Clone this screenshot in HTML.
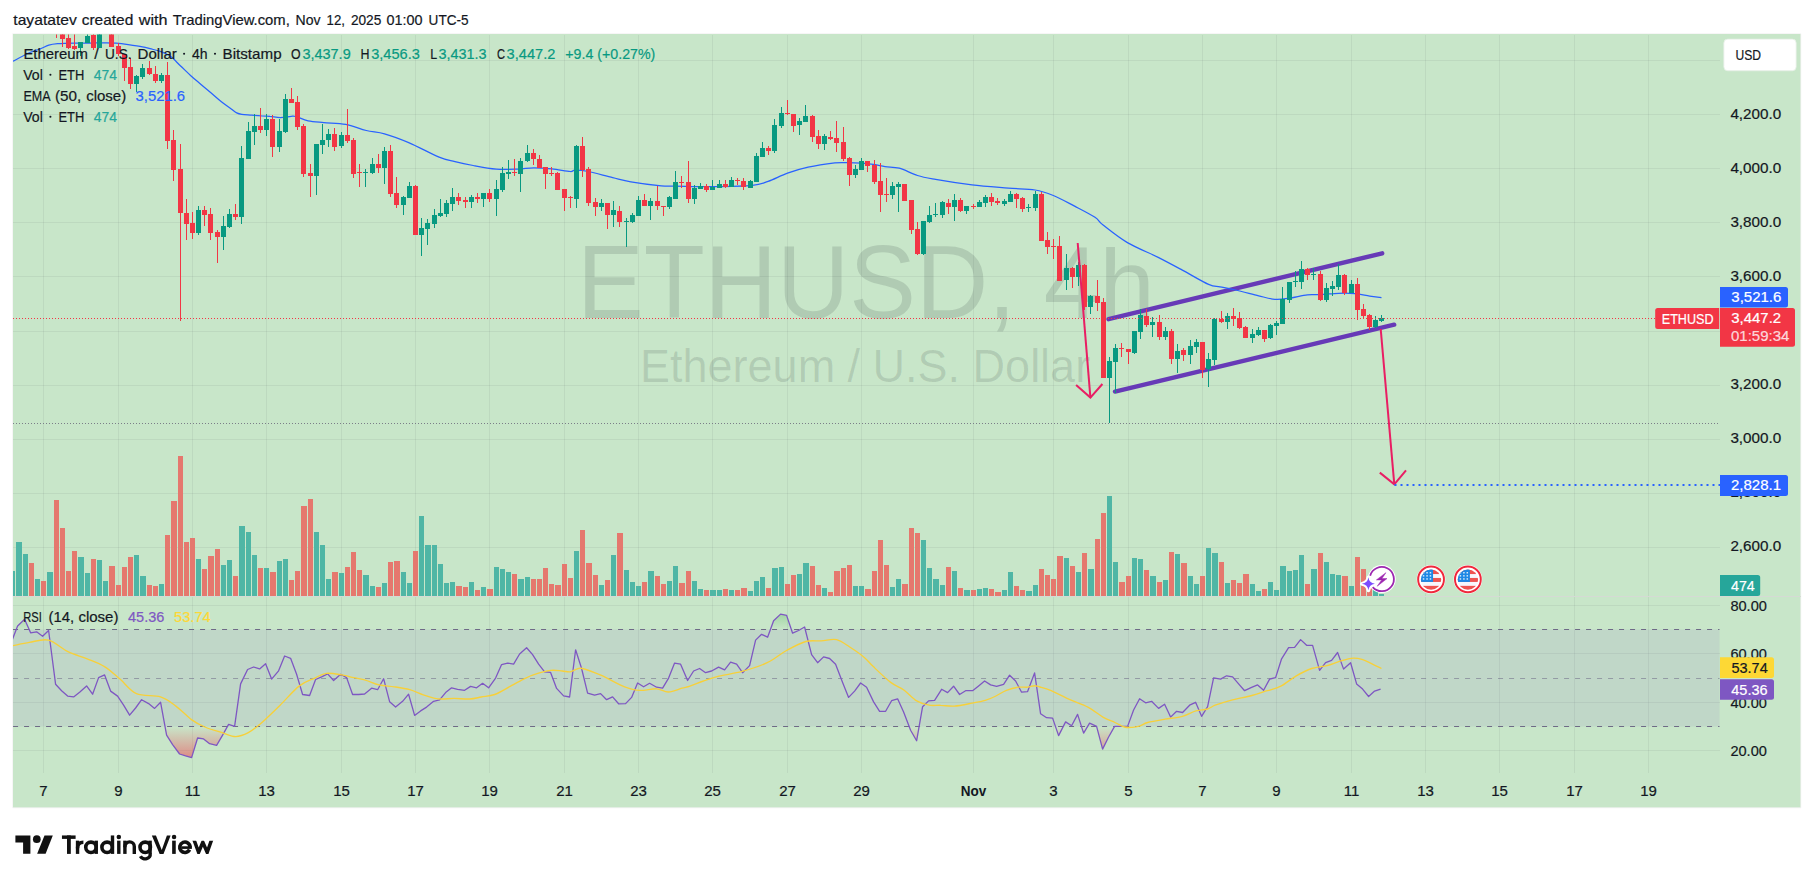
<!DOCTYPE html>
<html><head><meta charset="utf-8"><title>ETHUSD 4h</title>
<style>html,body{margin:0;padding:0;background:#fff;}svg{display:block;}text{font-family:"Liberation Sans", sans-serif;}.h{stroke-width:0.2px;paint-order:stroke fill;}</style></head><body>
<svg width="1814" height="883" viewBox="0 0 1814 883">
<defs>
<clipPath id="cpMain"><rect x="13" y="34.5" width="1706.5" height="561.5"/></clipPath>
<clipPath id="cpRsi"><rect x="13" y="597" width="1706.5" height="176.5"/></clipPath>
<linearGradient id="gOS" x1="0" y1="726.5" x2="0" y2="760" gradientUnits="userSpaceOnUse"><stop offset="0" stop-color="#F23645" stop-opacity="0"/><stop offset="1" stop-color="#F23645" stop-opacity="0.55"/></linearGradient>
<linearGradient id="gOB" x1="0" y1="612" x2="0" y2="629.5" gradientUnits="userSpaceOnUse"><stop offset="0" stop-color="#4CAF50" stop-opacity="0.35"/><stop offset="1" stop-color="#4CAF50" stop-opacity="0"/></linearGradient>
<clipPath id="cpOS"><rect x="13" y="726.5" width="1707" height="60"/></clipPath>
<clipPath id="cpOB"><rect x="13" y="597" width="1707" height="32.5"/></clipPath>
<clipPath id="cpFlag"><circle cx="0" cy="0" r="10.15"/></clipPath>
</defs>
<text class="h" stroke="#131722" x="13.3" y="24.6" font-size="14.6" fill="#131722" textLength="63.6" lengthAdjust="spacingAndGlyphs">tayatatev</text>
<text class="h" stroke="#131722" x="81.7" y="24.6" font-size="14.6" fill="#131722" textLength="51.6" lengthAdjust="spacingAndGlyphs">created</text>
<text class="h" stroke="#131722" x="138.8" y="24.6" font-size="14.6" fill="#131722" textLength="28.8" lengthAdjust="spacingAndGlyphs">with</text>
<text class="h" stroke="#131722" x="172.8" y="24.6" font-size="14.6" fill="#131722" textLength="117" lengthAdjust="spacingAndGlyphs">TradingView.com,</text>
<text class="h" stroke="#131722" x="295.6" y="24.6" font-size="14.6" fill="#131722" textLength="25" lengthAdjust="spacingAndGlyphs">Nov</text>
<text class="h" stroke="#131722" x="326.6" y="24.6" font-size="14.6" fill="#131722" textLength="18.4" lengthAdjust="spacingAndGlyphs">12,</text>
<text class="h" stroke="#131722" x="350.9" y="24.6" font-size="14.6" fill="#131722" textLength="30.4" lengthAdjust="spacingAndGlyphs">2025</text>
<text class="h" stroke="#131722" x="386.6" y="24.6" font-size="14.6" fill="#131722" textLength="36" lengthAdjust="spacingAndGlyphs">01:00</text>
<text class="h" stroke="#131722" x="428.6" y="24.6" font-size="14.6" fill="#131722" textLength="40" lengthAdjust="spacingAndGlyphs">UTC-5</text>
<rect x="12.4" y="33.4" width="1788.8" height="774.8" fill="#F1F1F1"/>
<rect x="13" y="34" width="1787.4" height="773.3" fill="#C8E6C9"/>
<g shape-rendering="crispEdges" fill="rgba(42,46,57,0.065)">
<rect x="43" y="35" width="1" height="738"/>
<rect x="118" y="35" width="1" height="738"/>
<rect x="192" y="35" width="1" height="738"/>
<rect x="266" y="35" width="1" height="738"/>
<rect x="341" y="35" width="1" height="738"/>
<rect x="415" y="35" width="1" height="738"/>
<rect x="489" y="35" width="1" height="738"/>
<rect x="564" y="35" width="1" height="738"/>
<rect x="638" y="35" width="1" height="738"/>
<rect x="712" y="35" width="1" height="738"/>
<rect x="787" y="35" width="1" height="738"/>
<rect x="861" y="35" width="1" height="738"/>
<rect x="973" y="35" width="1" height="738"/>
<rect x="1053" y="35" width="1" height="738"/>
<rect x="1128" y="35" width="1" height="738"/>
<rect x="1202" y="35" width="1" height="738"/>
<rect x="1276" y="35" width="1" height="738"/>
<rect x="1351" y="35" width="1" height="738"/>
<rect x="1425" y="35" width="1" height="738"/>
<rect x="1499" y="35" width="1" height="738"/>
<rect x="1574" y="35" width="1" height="738"/>
<rect x="1648" y="35" width="1" height="738"/>
<rect x="13" y="60" width="1706.5" height="1"/>
<rect x="13" y="114" width="1706.5" height="1"/>
<rect x="13" y="168" width="1706.5" height="1"/>
<rect x="13" y="222" width="1706.5" height="1"/>
<rect x="13" y="276" width="1706.5" height="1"/>
<rect x="13" y="331" width="1706.5" height="1"/>
<rect x="13" y="385" width="1706.5" height="1"/>
<rect x="13" y="439" width="1706.5" height="1"/>
<rect x="13" y="493" width="1706.5" height="1"/>
<rect x="13" y="547" width="1706.5" height="1"/>
<rect x="13" y="605" width="1706.5" height="1"/>
<rect x="13" y="653" width="1706.5" height="1"/>
<rect x="13" y="702" width="1706.5" height="1"/>
<rect x="13" y="750" width="1706.5" height="1"/>
</g>
<text x="577.05" y="0" transform="translate(0 317.6) scale(1 1.04)" font-size="100" fill="rgba(19,23,34,0.13)">ETHUSD,</text>
<text x="1043.75" y="0" transform="translate(0 317.6) scale(1 1.02)" font-size="100" fill="rgba(19,23,34,0.13)">4</text>
<text x="1099.35" y="0" transform="translate(0 317.6) scale(1 0.98)" font-size="100" fill="rgba(19,23,34,0.13)">h</text>
<text x="865.1" y="0" transform="translate(0 382) scale(1 1.045)" font-size="45" fill="rgba(19,23,34,0.13)" text-anchor="middle">Ethereum / U.S. Dollar</text>
<g clip-path="url(#cpMain)" shape-rendering="crispEdges">
<rect x="1379" y="594" width="5" height="2" fill="#4FB6A5"/>
<rect x="1373" y="590" width="5" height="6" fill="#4FB6A5"/>
<rect x="1367" y="586" width="5" height="10" fill="#E5786E"/>
<rect x="1361" y="569" width="5" height="27" fill="#E5786E"/>
<rect x="1355" y="557" width="5" height="39" fill="#E5786E"/>
<rect x="1349" y="586" width="5" height="10" fill="#4FB6A5"/>
<rect x="1342" y="576" width="6" height="20" fill="#E5786E"/>
<rect x="1336" y="575" width="5" height="21" fill="#4FB6A5"/>
<rect x="1330" y="574" width="5" height="22" fill="#4FB6A5"/>
<rect x="1324" y="562" width="5" height="34" fill="#4FB6A5"/>
<rect x="1318" y="553" width="5" height="43" fill="#E5786E"/>
<rect x="1311" y="569" width="6" height="27" fill="#4FB6A5"/>
<rect x="1305" y="584" width="5" height="12" fill="#E5786E"/>
<rect x="1299" y="555" width="5" height="41" fill="#4FB6A5"/>
<rect x="1293" y="570" width="5" height="26" fill="#4FB6A5"/>
<rect x="1287" y="571" width="5" height="25" fill="#4FB6A5"/>
<rect x="1280" y="566" width="6" height="30" fill="#4FB6A5"/>
<rect x="1274" y="590" width="5" height="6" fill="#4FB6A5"/>
<rect x="1268" y="582" width="5" height="14" fill="#4FB6A5"/>
<rect x="1262" y="589" width="5" height="7" fill="#E5786E"/>
<rect x="1256" y="591" width="5" height="5" fill="#4FB6A5"/>
<rect x="1250" y="584" width="5" height="12" fill="#4FB6A5"/>
<rect x="1243" y="574" width="6" height="22" fill="#E5786E"/>
<rect x="1237" y="583" width="5" height="13" fill="#E5786E"/>
<rect x="1231" y="580" width="5" height="16" fill="#E5786E"/>
<rect x="1225" y="583" width="5" height="13" fill="#4FB6A5"/>
<rect x="1219" y="562" width="5" height="34" fill="#E5786E"/>
<rect x="1212" y="553" width="6" height="43" fill="#4FB6A5"/>
<rect x="1206" y="548" width="5" height="48" fill="#4FB6A5"/>
<rect x="1200" y="576" width="5" height="20" fill="#E5786E"/>
<rect x="1194" y="584" width="5" height="12" fill="#4FB6A5"/>
<rect x="1188" y="576" width="5" height="20" fill="#4FB6A5"/>
<rect x="1181" y="563" width="6" height="33" fill="#E5786E"/>
<rect x="1175" y="554" width="5" height="42" fill="#4FB6A5"/>
<rect x="1169" y="552" width="5" height="44" fill="#E5786E"/>
<rect x="1163" y="580" width="5" height="16" fill="#4FB6A5"/>
<rect x="1157" y="582" width="5" height="14" fill="#E5786E"/>
<rect x="1150" y="576" width="6" height="20" fill="#4FB6A5"/>
<rect x="1144" y="570" width="5" height="26" fill="#E5786E"/>
<rect x="1138" y="559" width="5" height="37" fill="#4FB6A5"/>
<rect x="1132" y="558" width="5" height="38" fill="#4FB6A5"/>
<rect x="1126" y="576" width="5" height="20" fill="#E5786E"/>
<rect x="1119" y="582" width="6" height="14" fill="#E5786E"/>
<rect x="1113" y="562" width="5" height="34" fill="#4FB6A5"/>
<rect x="1107" y="496" width="5" height="100" fill="#4FB6A5"/>
<rect x="1101" y="513" width="5" height="83" fill="#E5786E"/>
<rect x="1095" y="539" width="5" height="57" fill="#E5786E"/>
<rect x="1088" y="569" width="6" height="27" fill="#4FB6A5"/>
<rect x="1082" y="553" width="5" height="43" fill="#E5786E"/>
<rect x="1076" y="572" width="5" height="24" fill="#4FB6A5"/>
<rect x="1070" y="566" width="5" height="30" fill="#E5786E"/>
<rect x="1064" y="558" width="5" height="38" fill="#4FB6A5"/>
<rect x="1057" y="556" width="6" height="40" fill="#E5786E"/>
<rect x="1051" y="579" width="5" height="17" fill="#E5786E"/>
<rect x="1045" y="575" width="5" height="21" fill="#E5786E"/>
<rect x="1039" y="569" width="5" height="27" fill="#E5786E"/>
<rect x="1033" y="585" width="5" height="11" fill="#4FB6A5"/>
<rect x="1026" y="591" width="6" height="5" fill="#4FB6A5"/>
<rect x="1020" y="590" width="5" height="6" fill="#E5786E"/>
<rect x="1014" y="586" width="5" height="10" fill="#E5786E"/>
<rect x="1008" y="572" width="5" height="24" fill="#4FB6A5"/>
<rect x="1002" y="590" width="5" height="6" fill="#4FB6A5"/>
<rect x="995" y="592" width="6" height="4" fill="#E5786E"/>
<rect x="989" y="589" width="5" height="7" fill="#E5786E"/>
<rect x="983" y="588" width="5" height="8" fill="#4FB6A5"/>
<rect x="977" y="589" width="5" height="7" fill="#4FB6A5"/>
<rect x="971" y="590" width="5" height="6" fill="#E5786E"/>
<rect x="964" y="590" width="6" height="6" fill="#4FB6A5"/>
<rect x="958" y="588" width="5" height="8" fill="#E5786E"/>
<rect x="952" y="571" width="5" height="25" fill="#4FB6A5"/>
<rect x="946" y="567" width="5" height="29" fill="#E5786E"/>
<rect x="940" y="585" width="5" height="11" fill="#4FB6A5"/>
<rect x="933" y="579" width="6" height="17" fill="#4FB6A5"/>
<rect x="927" y="568" width="5" height="28" fill="#4FB6A5"/>
<rect x="921" y="540" width="5" height="56" fill="#4FB6A5"/>
<rect x="915" y="533" width="5" height="63" fill="#E5786E"/>
<rect x="909" y="528" width="5" height="68" fill="#E5786E"/>
<rect x="902" y="584" width="6" height="12" fill="#E5786E"/>
<rect x="896" y="579" width="5" height="17" fill="#4FB6A5"/>
<rect x="890" y="587" width="5" height="9" fill="#4FB6A5"/>
<rect x="884" y="565" width="5" height="31" fill="#E5786E"/>
<rect x="878" y="540" width="5" height="56" fill="#E5786E"/>
<rect x="872" y="571" width="5" height="25" fill="#E5786E"/>
<rect x="865" y="589" width="6" height="7" fill="#E5786E"/>
<rect x="859" y="586" width="5" height="10" fill="#4FB6A5"/>
<rect x="853" y="586" width="5" height="10" fill="#4FB6A5"/>
<rect x="847" y="565" width="5" height="31" fill="#E5786E"/>
<rect x="841" y="568" width="5" height="28" fill="#E5786E"/>
<rect x="834" y="571" width="6" height="25" fill="#E5786E"/>
<rect x="828" y="592" width="5" height="4" fill="#E5786E"/>
<rect x="822" y="588" width="5" height="8" fill="#4FB6A5"/>
<rect x="816" y="585" width="5" height="11" fill="#E5786E"/>
<rect x="810" y="566" width="5" height="30" fill="#E5786E"/>
<rect x="803" y="563" width="6" height="33" fill="#4FB6A5"/>
<rect x="797" y="574" width="5" height="22" fill="#4FB6A5"/>
<rect x="791" y="575" width="5" height="21" fill="#E5786E"/>
<rect x="785" y="584" width="5" height="12" fill="#E5786E"/>
<rect x="779" y="567" width="5" height="29" fill="#4FB6A5"/>
<rect x="772" y="568" width="6" height="28" fill="#4FB6A5"/>
<rect x="766" y="588" width="5" height="8" fill="#E5786E"/>
<rect x="760" y="577" width="5" height="19" fill="#4FB6A5"/>
<rect x="754" y="581" width="5" height="15" fill="#4FB6A5"/>
<rect x="748" y="591" width="5" height="5" fill="#4FB6A5"/>
<rect x="741" y="588" width="6" height="8" fill="#E5786E"/>
<rect x="735" y="590" width="5" height="6" fill="#E5786E"/>
<rect x="729" y="590" width="5" height="6" fill="#4FB6A5"/>
<rect x="723" y="589" width="5" height="7" fill="#E5786E"/>
<rect x="717" y="590" width="5" height="6" fill="#4FB6A5"/>
<rect x="710" y="590" width="6" height="6" fill="#4FB6A5"/>
<rect x="704" y="590" width="5" height="6" fill="#E5786E"/>
<rect x="698" y="589" width="5" height="7" fill="#4FB6A5"/>
<rect x="692" y="581" width="5" height="15" fill="#4FB6A5"/>
<rect x="686" y="571" width="5" height="25" fill="#E5786E"/>
<rect x="679" y="583" width="6" height="13" fill="#E5786E"/>
<rect x="673" y="566" width="5" height="30" fill="#4FB6A5"/>
<rect x="667" y="581" width="5" height="15" fill="#4FB6A5"/>
<rect x="661" y="584" width="5" height="12" fill="#E5786E"/>
<rect x="655" y="576" width="5" height="20" fill="#E5786E"/>
<rect x="648" y="571" width="6" height="25" fill="#4FB6A5"/>
<rect x="642" y="582" width="5" height="14" fill="#E5786E"/>
<rect x="636" y="586" width="5" height="10" fill="#4FB6A5"/>
<rect x="630" y="582" width="5" height="14" fill="#4FB6A5"/>
<rect x="624" y="570" width="5" height="26" fill="#4FB6A5"/>
<rect x="617" y="533" width="6" height="63" fill="#E5786E"/>
<rect x="611" y="555" width="5" height="41" fill="#4FB6A5"/>
<rect x="605" y="580" width="5" height="16" fill="#E5786E"/>
<rect x="599" y="585" width="5" height="11" fill="#4FB6A5"/>
<rect x="593" y="575" width="5" height="21" fill="#E5786E"/>
<rect x="586" y="563" width="6" height="33" fill="#E5786E"/>
<rect x="580" y="530" width="5" height="66" fill="#E5786E"/>
<rect x="574" y="551" width="5" height="45" fill="#4FB6A5"/>
<rect x="568" y="578" width="5" height="18" fill="#E5786E"/>
<rect x="562" y="564" width="5" height="32" fill="#E5786E"/>
<rect x="555" y="585" width="6" height="11" fill="#E5786E"/>
<rect x="549" y="584" width="5" height="12" fill="#E5786E"/>
<rect x="543" y="568" width="5" height="28" fill="#E5786E"/>
<rect x="537" y="579" width="5" height="17" fill="#E5786E"/>
<rect x="531" y="579" width="5" height="17" fill="#E5786E"/>
<rect x="525" y="577" width="5" height="19" fill="#4FB6A5"/>
<rect x="518" y="579" width="6" height="17" fill="#4FB6A5"/>
<rect x="512" y="574" width="5" height="22" fill="#E5786E"/>
<rect x="506" y="572" width="5" height="24" fill="#4FB6A5"/>
<rect x="500" y="569" width="5" height="27" fill="#4FB6A5"/>
<rect x="494" y="567" width="5" height="29" fill="#4FB6A5"/>
<rect x="487" y="589" width="6" height="7" fill="#E5786E"/>
<rect x="481" y="587" width="5" height="9" fill="#4FB6A5"/>
<rect x="475" y="590" width="5" height="6" fill="#E5786E"/>
<rect x="469" y="582" width="5" height="14" fill="#4FB6A5"/>
<rect x="463" y="587" width="5" height="9" fill="#E5786E"/>
<rect x="456" y="586" width="6" height="10" fill="#E5786E"/>
<rect x="450" y="582" width="5" height="14" fill="#4FB6A5"/>
<rect x="444" y="583" width="5" height="13" fill="#4FB6A5"/>
<rect x="438" y="564" width="5" height="32" fill="#4FB6A5"/>
<rect x="432" y="545" width="5" height="51" fill="#4FB6A5"/>
<rect x="425" y="545" width="6" height="51" fill="#4FB6A5"/>
<rect x="419" y="516" width="5" height="80" fill="#4FB6A5"/>
<rect x="413" y="551" width="5" height="45" fill="#E5786E"/>
<rect x="407" y="583" width="5" height="13" fill="#4FB6A5"/>
<rect x="401" y="572" width="5" height="24" fill="#4FB6A5"/>
<rect x="394" y="561" width="6" height="35" fill="#E5786E"/>
<rect x="388" y="562" width="5" height="34" fill="#E5786E"/>
<rect x="382" y="583" width="5" height="13" fill="#4FB6A5"/>
<rect x="376" y="587" width="5" height="9" fill="#E5786E"/>
<rect x="370" y="586" width="5" height="10" fill="#4FB6A5"/>
<rect x="363" y="575" width="6" height="21" fill="#4FB6A5"/>
<rect x="357" y="570" width="5" height="26" fill="#E5786E"/>
<rect x="351" y="552" width="5" height="44" fill="#E5786E"/>
<rect x="345" y="567" width="5" height="29" fill="#E5786E"/>
<rect x="339" y="573" width="5" height="23" fill="#4FB6A5"/>
<rect x="332" y="572" width="6" height="24" fill="#E5786E"/>
<rect x="326" y="579" width="5" height="17" fill="#4FB6A5"/>
<rect x="320" y="545" width="5" height="51" fill="#4FB6A5"/>
<rect x="314" y="532" width="5" height="64" fill="#4FB6A5"/>
<rect x="308" y="499" width="5" height="97" fill="#E5786E"/>
<rect x="301" y="506" width="6" height="90" fill="#E5786E"/>
<rect x="295" y="571" width="5" height="25" fill="#E5786E"/>
<rect x="289" y="580" width="5" height="16" fill="#E5786E"/>
<rect x="283" y="559" width="5" height="37" fill="#4FB6A5"/>
<rect x="277" y="561" width="5" height="35" fill="#4FB6A5"/>
<rect x="270" y="572" width="6" height="24" fill="#E5786E"/>
<rect x="264" y="568" width="5" height="28" fill="#4FB6A5"/>
<rect x="258" y="568" width="5" height="28" fill="#E5786E"/>
<rect x="252" y="555" width="5" height="41" fill="#4FB6A5"/>
<rect x="246" y="532" width="5" height="64" fill="#4FB6A5"/>
<rect x="239" y="526" width="6" height="70" fill="#4FB6A5"/>
<rect x="233" y="576" width="5" height="20" fill="#E5786E"/>
<rect x="227" y="560" width="5" height="36" fill="#4FB6A5"/>
<rect x="221" y="565" width="5" height="31" fill="#4FB6A5"/>
<rect x="215" y="549" width="5" height="47" fill="#E5786E"/>
<rect x="208" y="556" width="6" height="40" fill="#E5786E"/>
<rect x="202" y="569" width="5" height="27" fill="#E5786E"/>
<rect x="196" y="559" width="5" height="37" fill="#4FB6A5"/>
<rect x="190" y="538" width="5" height="58" fill="#E5786E"/>
<rect x="184" y="542" width="5" height="54" fill="#E5786E"/>
<rect x="178" y="456" width="5" height="140" fill="#E5786E"/>
<rect x="171" y="501" width="6" height="95" fill="#E5786E"/>
<rect x="165" y="535" width="5" height="61" fill="#E5786E"/>
<rect x="159" y="584" width="5" height="12" fill="#4FB6A5"/>
<rect x="153" y="586" width="5" height="10" fill="#E5786E"/>
<rect x="147" y="585" width="5" height="11" fill="#E5786E"/>
<rect x="140" y="576" width="6" height="20" fill="#4FB6A5"/>
<rect x="134" y="555" width="5" height="41" fill="#4FB6A5"/>
<rect x="128" y="557" width="5" height="39" fill="#E5786E"/>
<rect x="122" y="567" width="5" height="29" fill="#E5786E"/>
<rect x="116" y="585" width="5" height="11" fill="#E5786E"/>
<rect x="109" y="566" width="6" height="30" fill="#E5786E"/>
<rect x="103" y="581" width="5" height="15" fill="#4FB6A5"/>
<rect x="97" y="560" width="5" height="36" fill="#4FB6A5"/>
<rect x="91" y="559" width="5" height="37" fill="#E5786E"/>
<rect x="85" y="573" width="5" height="23" fill="#4FB6A5"/>
<rect x="78" y="557" width="6" height="39" fill="#4FB6A5"/>
<rect x="72" y="551" width="5" height="45" fill="#E5786E"/>
<rect x="66" y="571" width="5" height="25" fill="#E5786E"/>
<rect x="60" y="528" width="5" height="68" fill="#E5786E"/>
<rect x="54" y="500" width="5" height="96" fill="#E5786E"/>
<rect x="47" y="572" width="6" height="24" fill="#4FB6A5"/>
<rect x="41" y="581" width="5" height="15" fill="#E5786E"/>
<rect x="35" y="579" width="5" height="17" fill="#4FB6A5"/>
<rect x="29" y="563" width="5" height="33" fill="#E5786E"/>
<rect x="23" y="554" width="5" height="42" fill="#4FB6A5"/>
<rect x="16" y="542" width="6" height="54" fill="#4FB6A5"/>
<rect x="10" y="571" width="5" height="25" fill="#4FB6A5"/>
</g>
<g clip-path="url(#cpMain)" fill="none" stroke-linecap="round" stroke="#673AB7" stroke-width="4.4">
<line x1="1108.5" y1="319.2" x2="1382.2" y2="253.3"/>
<line x1="1115" y1="391.6" x2="1394.2" y2="324.7"/>
</g>
<path clip-path="url(#cpMain)" d="M13.0 61.3 C15.8 59.8 25.4 54.5 29.9 52.5 C34.4 50.5 36.9 50.2 40.0 49.0 C43.1 47.8 45.9 46.1 48.8 45.2 C51.7 44.3 53.2 44.1 57.6 43.7 C62.0 43.4 69.7 43.2 75.0 43.1 C80.3 43.0 84.3 43.0 89.5 43.0 C94.7 43.0 101.6 42.9 106.0 42.9 C110.4 42.9 112.3 42.9 116.0 43.2 C119.7 43.5 123.8 44.0 128.2 44.6 C132.6 45.2 138.9 46.1 142.5 46.8 C146.1 47.5 147.1 47.9 150.0 48.7 C152.9 49.5 156.8 50.1 160.2 51.4 C163.6 52.7 167.0 53.9 170.4 56.3 C173.8 58.7 177.2 62.8 180.6 66.0 C184.0 69.2 187.4 72.6 190.8 75.7 C194.2 78.8 197.6 81.5 201.0 84.4 C204.4 87.3 207.8 90.1 211.2 93.0 C214.6 95.9 218.0 99.0 221.4 101.7 C224.8 104.4 229.1 107.4 231.6 109.3 C234.1 111.2 235.0 112.1 236.7 112.9 C238.4 113.8 239.2 114.0 241.8 114.4 C244.4 114.8 248.6 114.9 252.0 115.2 C255.4 115.5 259.2 115.8 262.2 116.0 C265.2 116.2 267.0 116.0 270.0 116.3 C273.0 116.5 276.7 117.5 280.2 117.5 C283.7 117.5 288.5 116.5 291.1 116.3 C293.7 116.1 293.1 115.8 295.9 116.5 C298.7 117.2 303.5 119.8 308.1 120.8 C312.8 121.8 317.5 122.0 323.8 122.6 C330.1 123.2 338.6 123.1 345.7 124.4 C352.8 125.7 359.8 128.9 366.3 130.5 C372.8 132.1 377.4 131.8 384.5 133.8 C391.6 135.8 399.6 138.7 408.7 142.6 C417.8 146.5 431.4 154.0 439.1 157.2 C446.8 160.4 449.3 160.2 455.0 161.6 C460.7 163.0 466.3 164.2 473.2 165.5 C480.1 166.8 488.7 168.5 496.2 169.1 C503.7 169.7 511.8 169.3 518.1 169.1 C524.4 168.9 528.1 167.9 533.8 167.9 C539.4 167.9 545.9 168.3 552.0 168.9 C558.1 169.5 566.4 171.3 570.2 171.5 C574.0 171.7 572.0 170.1 575.0 170.1 C578.0 170.1 582.1 170.2 588.4 171.5 C594.7 172.8 605.6 175.9 612.7 177.6 C619.8 179.3 622.8 180.4 630.9 181.8 C639.0 183.2 653.9 185.1 661.2 185.8 C668.6 186.5 666.3 186.0 675.0 186.1 C683.7 186.2 700.6 186.7 713.5 186.6 C726.4 186.5 743.2 186.3 752.3 185.4 C761.4 184.5 762.2 183.4 768.1 181.4 C774.0 179.4 780.8 175.6 787.5 173.2 C794.2 170.8 800.2 168.9 808.1 167.2 C816.0 165.5 828.3 163.7 834.8 162.9 C841.3 162.2 840.8 162.5 846.9 162.7 C853.0 162.9 864.9 163.4 871.2 164.1 C877.6 164.8 880.3 165.9 885.0 166.6 C889.7 167.3 893.9 166.7 899.3 168.2 C904.7 169.7 911.5 173.6 917.5 175.5 C923.5 177.4 926.5 177.8 935.6 179.4 C944.7 181.0 959.9 183.4 972.0 184.9 C984.1 186.4 997.9 187.3 1008.4 188.2 C1018.9 189.0 1027.6 188.8 1035.1 190.0 C1042.6 191.2 1046.6 192.8 1053.3 195.5 C1060.0 198.2 1068.1 202.8 1075.1 206.4 C1082.0 210.0 1090.3 214.2 1095.0 217.3 C1099.7 220.4 1097.7 220.8 1103.1 225.0 C1108.5 229.2 1118.3 237.2 1127.4 242.6 C1136.5 247.9 1148.6 252.6 1157.7 257.1 C1166.8 261.7 1173.4 265.3 1181.9 269.9 C1190.4 274.4 1202.2 281.6 1208.6 284.4 C1214.9 287.2 1215.5 286.0 1220.0 286.9 C1224.5 287.8 1229.0 288.5 1235.5 290.0 C1242.0 291.5 1252.1 294.2 1258.7 295.8 C1265.3 297.4 1269.9 298.9 1274.9 299.3 C1279.9 299.7 1283.3 299.1 1288.7 298.3 C1294.1 297.6 1302.2 295.4 1307.4 294.8 C1312.6 294.2 1314.6 294.9 1319.8 294.6 C1325.0 294.4 1332.7 293.5 1338.5 293.3 C1344.3 293.1 1349.5 293.1 1354.7 293.6 C1359.9 294.1 1365.2 295.4 1369.7 296.1 C1374.2 296.8 1379.5 297.4 1381.5 297.6" fill="none" stroke="#2962FF" stroke-width="1.25" stroke-linejoin="round"/>
<g clip-path="url(#cpMain)" shape-rendering="crispEdges">
<rect x="1381" y="315" width="1" height="7" fill="#089981"/>
<rect x="1379" y="318" width="5" height="3" fill="#089981"/>
<rect x="1375" y="316" width="1" height="12" fill="#089981"/>
<rect x="1373" y="320" width="5" height="7" fill="#089981"/>
<rect x="1369" y="314" width="1" height="16" fill="#F23645"/>
<rect x="1367" y="315" width="5" height="12" fill="#F23645"/>
<rect x="1363" y="304" width="1" height="15" fill="#F23645"/>
<rect x="1361" y="309" width="5" height="7" fill="#F23645"/>
<rect x="1357" y="278" width="1" height="42" fill="#F23645"/>
<rect x="1355" y="284" width="5" height="26" fill="#F23645"/>
<rect x="1351" y="280" width="1" height="13" fill="#089981"/>
<rect x="1349" y="284" width="5" height="9" fill="#089981"/>
<rect x="1344" y="274" width="1" height="21" fill="#F23645"/>
<rect x="1342" y="275" width="5" height="18" fill="#F23645"/>
<rect x="1338" y="264" width="1" height="26" fill="#089981"/>
<rect x="1336" y="275" width="5" height="12" fill="#089981"/>
<rect x="1332" y="281" width="1" height="15" fill="#089981"/>
<rect x="1330" y="286" width="5" height="3" fill="#089981"/>
<rect x="1326" y="283" width="1" height="19" fill="#089981"/>
<rect x="1324" y="288" width="5" height="12" fill="#089981"/>
<rect x="1320" y="271" width="1" height="30" fill="#F23645"/>
<rect x="1318" y="274" width="5" height="26" fill="#F23645"/>
<rect x="1313" y="268" width="1" height="12" fill="#089981"/>
<rect x="1311" y="274" width="5" height="1" fill="#089981"/>
<rect x="1307" y="268" width="1" height="12" fill="#F23645"/>
<rect x="1305" y="269" width="5" height="6" fill="#F23645"/>
<rect x="1301" y="261" width="1" height="28" fill="#089981"/>
<rect x="1299" y="269" width="5" height="13" fill="#089981"/>
<rect x="1295" y="271" width="1" height="16" fill="#089981"/>
<rect x="1293" y="281" width="5" height="1" fill="#089981"/>
<rect x="1289" y="282" width="1" height="21" fill="#089981"/>
<rect x="1287" y="282" width="5" height="18" fill="#089981"/>
<rect x="1282" y="287" width="1" height="37" fill="#089981"/>
<rect x="1280" y="299" width="5" height="25" fill="#089981"/>
<rect x="1276" y="321" width="1" height="14" fill="#089981"/>
<rect x="1274" y="323" width="5" height="3" fill="#089981"/>
<rect x="1270" y="324" width="1" height="15" fill="#089981"/>
<rect x="1268" y="325" width="5" height="13" fill="#089981"/>
<rect x="1264" y="330" width="1" height="12" fill="#F23645"/>
<rect x="1262" y="330" width="5" height="9" fill="#F23645"/>
<rect x="1258" y="327" width="1" height="9" fill="#089981"/>
<rect x="1256" y="330" width="5" height="5" fill="#089981"/>
<rect x="1252" y="329" width="1" height="14" fill="#089981"/>
<rect x="1250" y="334" width="5" height="4" fill="#089981"/>
<rect x="1245" y="326" width="1" height="12" fill="#F23645"/>
<rect x="1243" y="327" width="5" height="11" fill="#F23645"/>
<rect x="1239" y="312" width="1" height="17" fill="#F23645"/>
<rect x="1237" y="318" width="5" height="10" fill="#F23645"/>
<rect x="1233" y="308" width="1" height="18" fill="#F23645"/>
<rect x="1231" y="316" width="5" height="3" fill="#F23645"/>
<rect x="1227" y="313" width="1" height="16" fill="#089981"/>
<rect x="1225" y="316" width="5" height="6" fill="#089981"/>
<rect x="1221" y="311" width="1" height="12" fill="#F23645"/>
<rect x="1219" y="319" width="5" height="3" fill="#F23645"/>
<rect x="1214" y="318" width="1" height="47" fill="#089981"/>
<rect x="1212" y="319" width="5" height="41" fill="#089981"/>
<rect x="1208" y="353" width="1" height="34" fill="#089981"/>
<rect x="1206" y="359" width="5" height="10" fill="#089981"/>
<rect x="1202" y="342" width="1" height="36" fill="#F23645"/>
<rect x="1200" y="342" width="5" height="28" fill="#F23645"/>
<rect x="1196" y="339" width="1" height="14" fill="#089981"/>
<rect x="1194" y="342" width="5" height="5" fill="#089981"/>
<rect x="1190" y="340" width="1" height="24" fill="#089981"/>
<rect x="1188" y="346" width="5" height="9" fill="#089981"/>
<rect x="1183" y="348" width="1" height="13" fill="#F23645"/>
<rect x="1181" y="350" width="5" height="5" fill="#F23645"/>
<rect x="1177" y="344" width="1" height="29" fill="#089981"/>
<rect x="1175" y="351" width="5" height="8" fill="#089981"/>
<rect x="1171" y="329" width="1" height="35" fill="#F23645"/>
<rect x="1169" y="331" width="5" height="28" fill="#F23645"/>
<rect x="1165" y="327" width="1" height="13" fill="#089981"/>
<rect x="1163" y="331" width="5" height="6" fill="#089981"/>
<rect x="1159" y="315" width="1" height="25" fill="#F23645"/>
<rect x="1157" y="322" width="5" height="15" fill="#F23645"/>
<rect x="1152" y="317" width="1" height="20" fill="#089981"/>
<rect x="1150" y="322" width="5" height="3" fill="#089981"/>
<rect x="1146" y="309" width="1" height="18" fill="#F23645"/>
<rect x="1144" y="316" width="5" height="9" fill="#F23645"/>
<rect x="1140" y="309" width="1" height="30" fill="#089981"/>
<rect x="1138" y="315" width="5" height="17" fill="#089981"/>
<rect x="1134" y="331" width="1" height="23" fill="#089981"/>
<rect x="1132" y="331" width="5" height="22" fill="#089981"/>
<rect x="1128" y="349" width="1" height="15" fill="#F23645"/>
<rect x="1126" y="349" width="5" height="3" fill="#F23645"/>
<rect x="1121" y="343" width="1" height="14" fill="#F23645"/>
<rect x="1119" y="348" width="5" height="1" fill="#F23645"/>
<rect x="1115" y="344" width="1" height="49" fill="#089981"/>
<rect x="1113" y="348" width="5" height="14" fill="#089981"/>
<rect x="1109" y="357" width="1" height="66" fill="#089981"/>
<rect x="1107" y="361" width="5" height="17" fill="#089981"/>
<rect x="1103" y="298" width="1" height="80" fill="#F23645"/>
<rect x="1101" y="302" width="5" height="76" fill="#F23645"/>
<rect x="1097" y="280" width="1" height="31" fill="#F23645"/>
<rect x="1095" y="296" width="5" height="7" fill="#F23645"/>
<rect x="1090" y="295" width="1" height="19" fill="#089981"/>
<rect x="1088" y="296" width="5" height="11" fill="#089981"/>
<rect x="1084" y="264" width="1" height="46" fill="#F23645"/>
<rect x="1082" y="265" width="5" height="42" fill="#F23645"/>
<rect x="1078" y="262" width="1" height="24" fill="#089981"/>
<rect x="1076" y="265" width="5" height="12" fill="#089981"/>
<rect x="1072" y="267" width="1" height="21" fill="#F23645"/>
<rect x="1070" y="268" width="5" height="9" fill="#F23645"/>
<rect x="1066" y="254" width="1" height="36" fill="#089981"/>
<rect x="1064" y="268" width="5" height="12" fill="#089981"/>
<rect x="1059" y="236" width="1" height="45" fill="#F23645"/>
<rect x="1057" y="246" width="5" height="35" fill="#F23645"/>
<rect x="1053" y="239" width="1" height="20" fill="#F23645"/>
<rect x="1051" y="246" width="5" height="1" fill="#F23645"/>
<rect x="1047" y="232" width="1" height="22" fill="#F23645"/>
<rect x="1045" y="240" width="5" height="7" fill="#F23645"/>
<rect x="1041" y="192" width="1" height="49" fill="#F23645"/>
<rect x="1039" y="194" width="5" height="47" fill="#F23645"/>
<rect x="1035" y="191" width="1" height="20" fill="#089981"/>
<rect x="1033" y="194" width="5" height="14" fill="#089981"/>
<rect x="1028" y="204" width="1" height="8" fill="#089981"/>
<rect x="1026" y="207" width="5" height="1" fill="#089981"/>
<rect x="1022" y="197" width="1" height="15" fill="#F23645"/>
<rect x="1020" y="198" width="5" height="11" fill="#F23645"/>
<rect x="1016" y="193" width="1" height="15" fill="#F23645"/>
<rect x="1014" y="194" width="5" height="5" fill="#F23645"/>
<rect x="1010" y="191" width="1" height="11" fill="#089981"/>
<rect x="1008" y="194" width="5" height="8" fill="#089981"/>
<rect x="1004" y="199" width="1" height="7" fill="#089981"/>
<rect x="1002" y="201" width="5" height="3" fill="#089981"/>
<rect x="997" y="198" width="1" height="7" fill="#F23645"/>
<rect x="995" y="201" width="5" height="2" fill="#F23645"/>
<rect x="991" y="193" width="1" height="13" fill="#F23645"/>
<rect x="989" y="197" width="5" height="5" fill="#F23645"/>
<rect x="985" y="195" width="1" height="12" fill="#089981"/>
<rect x="983" y="197" width="5" height="6" fill="#089981"/>
<rect x="979" y="200" width="1" height="7" fill="#089981"/>
<rect x="977" y="202" width="5" height="5" fill="#089981"/>
<rect x="973" y="204" width="1" height="5" fill="#F23645"/>
<rect x="971" y="206" width="5" height="1" fill="#F23645"/>
<rect x="966" y="206" width="1" height="8" fill="#089981"/>
<rect x="964" y="206" width="5" height="5" fill="#089981"/>
<rect x="960" y="198" width="1" height="14" fill="#F23645"/>
<rect x="958" y="200" width="5" height="11" fill="#F23645"/>
<rect x="954" y="194" width="1" height="27" fill="#089981"/>
<rect x="952" y="200" width="5" height="7" fill="#089981"/>
<rect x="948" y="199" width="1" height="15" fill="#F23645"/>
<rect x="946" y="203" width="5" height="4" fill="#F23645"/>
<rect x="942" y="201" width="1" height="17" fill="#089981"/>
<rect x="940" y="202" width="5" height="13" fill="#089981"/>
<rect x="935" y="203" width="1" height="14" fill="#089981"/>
<rect x="933" y="214" width="5" height="1" fill="#089981"/>
<rect x="929" y="206" width="1" height="17" fill="#089981"/>
<rect x="927" y="215" width="5" height="7" fill="#089981"/>
<rect x="923" y="221" width="1" height="34" fill="#089981"/>
<rect x="921" y="221" width="5" height="33" fill="#089981"/>
<rect x="917" y="222" width="1" height="33" fill="#F23645"/>
<rect x="915" y="229" width="5" height="25" fill="#F23645"/>
<rect x="911" y="200" width="1" height="34" fill="#F23645"/>
<rect x="909" y="200" width="5" height="30" fill="#F23645"/>
<rect x="904" y="184" width="1" height="17" fill="#F23645"/>
<rect x="902" y="184" width="5" height="17" fill="#F23645"/>
<rect x="898" y="182" width="1" height="30" fill="#089981"/>
<rect x="896" y="184" width="5" height="3" fill="#089981"/>
<rect x="892" y="182" width="1" height="17" fill="#089981"/>
<rect x="890" y="186" width="5" height="9" fill="#089981"/>
<rect x="886" y="178" width="1" height="24" fill="#F23645"/>
<rect x="884" y="194" width="5" height="1" fill="#F23645"/>
<rect x="880" y="163" width="1" height="49" fill="#F23645"/>
<rect x="878" y="181" width="5" height="14" fill="#F23645"/>
<rect x="874" y="160" width="1" height="24" fill="#F23645"/>
<rect x="872" y="165" width="5" height="17" fill="#F23645"/>
<rect x="867" y="161" width="1" height="11" fill="#F23645"/>
<rect x="865" y="161" width="5" height="5" fill="#F23645"/>
<rect x="861" y="158" width="1" height="12" fill="#089981"/>
<rect x="859" y="161" width="5" height="9" fill="#089981"/>
<rect x="855" y="165" width="1" height="13" fill="#089981"/>
<rect x="853" y="169" width="5" height="6" fill="#089981"/>
<rect x="849" y="157" width="1" height="29" fill="#F23645"/>
<rect x="847" y="158" width="5" height="17" fill="#F23645"/>
<rect x="843" y="127" width="1" height="34" fill="#F23645"/>
<rect x="841" y="142" width="5" height="17" fill="#F23645"/>
<rect x="836" y="121" width="1" height="31" fill="#F23645"/>
<rect x="834" y="138" width="5" height="5" fill="#F23645"/>
<rect x="830" y="131" width="1" height="9" fill="#F23645"/>
<rect x="828" y="137" width="5" height="2" fill="#F23645"/>
<rect x="824" y="134" width="1" height="16" fill="#089981"/>
<rect x="822" y="136" width="5" height="8" fill="#089981"/>
<rect x="818" y="130" width="1" height="19" fill="#F23645"/>
<rect x="816" y="136" width="5" height="8" fill="#F23645"/>
<rect x="812" y="115" width="1" height="27" fill="#F23645"/>
<rect x="810" y="116" width="5" height="21" fill="#F23645"/>
<rect x="805" y="105" width="1" height="17" fill="#089981"/>
<rect x="803" y="116" width="5" height="6" fill="#089981"/>
<rect x="799" y="118" width="1" height="17" fill="#089981"/>
<rect x="797" y="121" width="5" height="4" fill="#089981"/>
<rect x="793" y="114" width="1" height="18" fill="#F23645"/>
<rect x="791" y="114" width="5" height="12" fill="#F23645"/>
<rect x="787" y="100" width="1" height="15" fill="#F23645"/>
<rect x="785" y="113" width="5" height="1" fill="#F23645"/>
<rect x="781" y="107" width="1" height="21" fill="#089981"/>
<rect x="779" y="113" width="5" height="13" fill="#089981"/>
<rect x="774" y="119" width="1" height="34" fill="#089981"/>
<rect x="772" y="125" width="5" height="26" fill="#089981"/>
<rect x="768" y="146" width="1" height="9" fill="#F23645"/>
<rect x="766" y="148" width="5" height="3" fill="#F23645"/>
<rect x="762" y="142" width="1" height="15" fill="#089981"/>
<rect x="760" y="148" width="5" height="9" fill="#089981"/>
<rect x="756" y="153" width="1" height="29" fill="#089981"/>
<rect x="754" y="156" width="5" height="26" fill="#089981"/>
<rect x="750" y="180" width="1" height="8" fill="#089981"/>
<rect x="748" y="181" width="5" height="7" fill="#089981"/>
<rect x="743" y="178" width="1" height="12" fill="#F23645"/>
<rect x="741" y="181" width="5" height="6" fill="#F23645"/>
<rect x="737" y="178" width="1" height="7" fill="#F23645"/>
<rect x="735" y="180" width="5" height="1" fill="#F23645"/>
<rect x="731" y="177" width="1" height="10" fill="#089981"/>
<rect x="729" y="180" width="5" height="7" fill="#089981"/>
<rect x="725" y="180" width="1" height="8" fill="#F23645"/>
<rect x="723" y="184" width="5" height="3" fill="#F23645"/>
<rect x="719" y="180" width="1" height="8" fill="#089981"/>
<rect x="717" y="184" width="5" height="4" fill="#089981"/>
<rect x="712" y="180" width="1" height="10" fill="#089981"/>
<rect x="710" y="187" width="5" height="3" fill="#089981"/>
<rect x="706" y="184" width="1" height="8" fill="#F23645"/>
<rect x="704" y="186" width="5" height="4" fill="#F23645"/>
<rect x="700" y="183" width="1" height="6" fill="#089981"/>
<rect x="698" y="186" width="5" height="3" fill="#089981"/>
<rect x="694" y="185" width="1" height="19" fill="#089981"/>
<rect x="692" y="188" width="5" height="11" fill="#089981"/>
<rect x="688" y="161" width="1" height="42" fill="#F23645"/>
<rect x="686" y="182" width="5" height="17" fill="#F23645"/>
<rect x="681" y="176" width="1" height="12" fill="#F23645"/>
<rect x="679" y="182" width="5" height="1" fill="#F23645"/>
<rect x="675" y="171" width="1" height="28" fill="#089981"/>
<rect x="673" y="182" width="5" height="17" fill="#089981"/>
<rect x="669" y="196" width="1" height="13" fill="#089981"/>
<rect x="667" y="197" width="5" height="10" fill="#089981"/>
<rect x="663" y="206" width="1" height="10" fill="#F23645"/>
<rect x="661" y="206" width="5" height="1" fill="#F23645"/>
<rect x="657" y="186" width="1" height="24" fill="#F23645"/>
<rect x="655" y="201" width="5" height="5" fill="#F23645"/>
<rect x="650" y="198" width="1" height="22" fill="#089981"/>
<rect x="648" y="201" width="5" height="5" fill="#089981"/>
<rect x="644" y="194" width="1" height="12" fill="#F23645"/>
<rect x="642" y="200" width="5" height="6" fill="#F23645"/>
<rect x="638" y="196" width="1" height="20" fill="#089981"/>
<rect x="636" y="200" width="5" height="16" fill="#089981"/>
<rect x="632" y="213" width="1" height="10" fill="#089981"/>
<rect x="630" y="215" width="5" height="7" fill="#089981"/>
<rect x="626" y="218" width="1" height="29" fill="#089981"/>
<rect x="624" y="221" width="5" height="1" fill="#089981"/>
<rect x="619" y="206" width="1" height="21" fill="#F23645"/>
<rect x="617" y="211" width="5" height="11" fill="#F23645"/>
<rect x="613" y="201" width="1" height="26" fill="#089981"/>
<rect x="611" y="210" width="5" height="5" fill="#089981"/>
<rect x="607" y="203" width="1" height="26" fill="#F23645"/>
<rect x="605" y="203" width="5" height="12" fill="#F23645"/>
<rect x="601" y="199" width="1" height="12" fill="#089981"/>
<rect x="599" y="203" width="5" height="4" fill="#089981"/>
<rect x="595" y="198" width="1" height="18" fill="#F23645"/>
<rect x="593" y="202" width="5" height="5" fill="#F23645"/>
<rect x="588" y="167" width="1" height="39" fill="#F23645"/>
<rect x="586" y="169" width="5" height="34" fill="#F23645"/>
<rect x="582" y="137" width="1" height="40" fill="#F23645"/>
<rect x="580" y="146" width="5" height="24" fill="#F23645"/>
<rect x="576" y="145" width="1" height="63" fill="#089981"/>
<rect x="574" y="146" width="5" height="53" fill="#089981"/>
<rect x="570" y="196" width="1" height="12" fill="#F23645"/>
<rect x="568" y="197" width="5" height="1" fill="#F23645"/>
<rect x="564" y="189" width="1" height="22" fill="#F23645"/>
<rect x="562" y="189" width="5" height="9" fill="#F23645"/>
<rect x="557" y="172" width="1" height="18" fill="#F23645"/>
<rect x="555" y="173" width="5" height="17" fill="#F23645"/>
<rect x="551" y="167" width="1" height="9" fill="#F23645"/>
<rect x="549" y="173" width="5" height="1" fill="#F23645"/>
<rect x="545" y="167" width="1" height="22" fill="#F23645"/>
<rect x="543" y="167" width="5" height="7" fill="#F23645"/>
<rect x="539" y="155" width="1" height="13" fill="#F23645"/>
<rect x="537" y="159" width="5" height="9" fill="#F23645"/>
<rect x="533" y="149" width="1" height="16" fill="#F23645"/>
<rect x="531" y="153" width="5" height="6" fill="#F23645"/>
<rect x="527" y="145" width="1" height="17" fill="#089981"/>
<rect x="525" y="153" width="5" height="8" fill="#089981"/>
<rect x="520" y="158" width="1" height="34" fill="#089981"/>
<rect x="518" y="161" width="5" height="13" fill="#089981"/>
<rect x="514" y="159" width="1" height="17" fill="#F23645"/>
<rect x="512" y="172" width="5" height="1" fill="#F23645"/>
<rect x="508" y="160" width="1" height="19" fill="#089981"/>
<rect x="506" y="172" width="5" height="2" fill="#089981"/>
<rect x="502" y="167" width="1" height="25" fill="#089981"/>
<rect x="500" y="173" width="5" height="17" fill="#089981"/>
<rect x="496" y="180" width="1" height="36" fill="#089981"/>
<rect x="494" y="189" width="5" height="10" fill="#089981"/>
<rect x="489" y="189" width="1" height="13" fill="#F23645"/>
<rect x="487" y="193" width="5" height="6" fill="#F23645"/>
<rect x="483" y="193" width="1" height="14" fill="#089981"/>
<rect x="481" y="193" width="5" height="6" fill="#089981"/>
<rect x="477" y="193" width="1" height="10" fill="#F23645"/>
<rect x="475" y="197" width="5" height="2" fill="#F23645"/>
<rect x="471" y="195" width="1" height="13" fill="#089981"/>
<rect x="469" y="197" width="5" height="5" fill="#089981"/>
<rect x="465" y="197" width="1" height="11" fill="#F23645"/>
<rect x="463" y="200" width="5" height="2" fill="#F23645"/>
<rect x="458" y="193" width="1" height="12" fill="#F23645"/>
<rect x="456" y="197" width="5" height="4" fill="#F23645"/>
<rect x="452" y="188" width="1" height="23" fill="#089981"/>
<rect x="450" y="197" width="5" height="7" fill="#089981"/>
<rect x="446" y="200" width="1" height="17" fill="#089981"/>
<rect x="444" y="203" width="5" height="11" fill="#089981"/>
<rect x="440" y="199" width="1" height="18" fill="#089981"/>
<rect x="438" y="213" width="5" height="3" fill="#089981"/>
<rect x="434" y="209" width="1" height="19" fill="#089981"/>
<rect x="432" y="215" width="5" height="9" fill="#089981"/>
<rect x="427" y="219" width="1" height="26" fill="#089981"/>
<rect x="425" y="223" width="5" height="6" fill="#089981"/>
<rect x="421" y="218" width="1" height="38" fill="#089981"/>
<rect x="419" y="228" width="5" height="7" fill="#089981"/>
<rect x="415" y="185" width="1" height="50" fill="#F23645"/>
<rect x="413" y="186" width="5" height="49" fill="#F23645"/>
<rect x="409" y="182" width="1" height="16" fill="#089981"/>
<rect x="407" y="186" width="5" height="12" fill="#089981"/>
<rect x="403" y="196" width="1" height="19" fill="#089981"/>
<rect x="401" y="197" width="5" height="8" fill="#089981"/>
<rect x="396" y="177" width="1" height="31" fill="#F23645"/>
<rect x="394" y="193" width="5" height="12" fill="#F23645"/>
<rect x="390" y="145" width="1" height="52" fill="#F23645"/>
<rect x="388" y="151" width="5" height="43" fill="#F23645"/>
<rect x="384" y="147" width="1" height="37" fill="#089981"/>
<rect x="382" y="151" width="5" height="17" fill="#089981"/>
<rect x="378" y="154" width="1" height="19" fill="#F23645"/>
<rect x="376" y="164" width="5" height="4" fill="#F23645"/>
<rect x="372" y="158" width="1" height="16" fill="#089981"/>
<rect x="370" y="164" width="5" height="9" fill="#089981"/>
<rect x="365" y="169" width="1" height="18" fill="#089981"/>
<rect x="363" y="172" width="5" height="1" fill="#089981"/>
<rect x="359" y="164" width="1" height="23" fill="#F23645"/>
<rect x="357" y="172" width="5" height="1" fill="#F23645"/>
<rect x="353" y="138" width="1" height="40" fill="#F23645"/>
<rect x="351" y="140" width="5" height="34" fill="#F23645"/>
<rect x="347" y="109" width="1" height="34" fill="#F23645"/>
<rect x="345" y="135" width="5" height="6" fill="#F23645"/>
<rect x="341" y="132" width="1" height="16" fill="#089981"/>
<rect x="339" y="135" width="5" height="11" fill="#089981"/>
<rect x="334" y="128" width="1" height="23" fill="#F23645"/>
<rect x="332" y="134" width="5" height="13" fill="#F23645"/>
<rect x="328" y="129" width="1" height="18" fill="#089981"/>
<rect x="326" y="134" width="5" height="6" fill="#089981"/>
<rect x="322" y="124" width="1" height="30" fill="#089981"/>
<rect x="320" y="140" width="5" height="5" fill="#089981"/>
<rect x="316" y="144" width="1" height="51" fill="#089981"/>
<rect x="314" y="144" width="5" height="32" fill="#089981"/>
<rect x="310" y="164" width="1" height="33" fill="#F23645"/>
<rect x="308" y="173" width="5" height="3" fill="#F23645"/>
<rect x="303" y="124" width="1" height="53" fill="#F23645"/>
<rect x="301" y="126" width="5" height="48" fill="#F23645"/>
<rect x="297" y="96" width="1" height="34" fill="#F23645"/>
<rect x="295" y="102" width="5" height="25" fill="#F23645"/>
<rect x="291" y="88" width="1" height="15" fill="#F23645"/>
<rect x="289" y="99" width="5" height="4" fill="#F23645"/>
<rect x="285" y="94" width="1" height="39" fill="#089981"/>
<rect x="283" y="99" width="5" height="33" fill="#089981"/>
<rect x="279" y="119" width="1" height="33" fill="#089981"/>
<rect x="277" y="131" width="5" height="16" fill="#089981"/>
<rect x="272" y="115" width="1" height="42" fill="#F23645"/>
<rect x="270" y="119" width="5" height="28" fill="#F23645"/>
<rect x="266" y="114" width="1" height="22" fill="#089981"/>
<rect x="264" y="119" width="5" height="11" fill="#089981"/>
<rect x="260" y="108" width="1" height="25" fill="#F23645"/>
<rect x="258" y="126" width="5" height="4" fill="#F23645"/>
<rect x="254" y="114" width="1" height="31" fill="#089981"/>
<rect x="252" y="126" width="5" height="6" fill="#089981"/>
<rect x="248" y="122" width="1" height="37" fill="#089981"/>
<rect x="246" y="131" width="5" height="28" fill="#089981"/>
<rect x="241" y="146" width="1" height="78" fill="#089981"/>
<rect x="239" y="158" width="5" height="59" fill="#089981"/>
<rect x="235" y="204" width="1" height="16" fill="#F23645"/>
<rect x="233" y="214" width="5" height="3" fill="#F23645"/>
<rect x="229" y="209" width="1" height="19" fill="#089981"/>
<rect x="227" y="214" width="5" height="13" fill="#089981"/>
<rect x="223" y="216" width="1" height="34" fill="#089981"/>
<rect x="221" y="226" width="5" height="11" fill="#089981"/>
<rect x="217" y="230" width="1" height="33" fill="#F23645"/>
<rect x="215" y="232" width="5" height="5" fill="#F23645"/>
<rect x="210" y="208" width="1" height="32" fill="#F23645"/>
<rect x="208" y="214" width="5" height="19" fill="#F23645"/>
<rect x="204" y="206" width="1" height="20" fill="#F23645"/>
<rect x="202" y="210" width="5" height="5" fill="#F23645"/>
<rect x="198" y="206" width="1" height="29" fill="#089981"/>
<rect x="196" y="210" width="5" height="23" fill="#089981"/>
<rect x="192" y="212" width="1" height="27" fill="#F23645"/>
<rect x="190" y="223" width="5" height="10" fill="#F23645"/>
<rect x="186" y="199" width="1" height="41" fill="#F23645"/>
<rect x="184" y="213" width="5" height="11" fill="#F23645"/>
<rect x="180" y="144" width="1" height="177" fill="#F23645"/>
<rect x="178" y="169" width="5" height="44" fill="#F23645"/>
<rect x="173" y="130" width="1" height="51" fill="#F23645"/>
<rect x="171" y="140" width="5" height="30" fill="#F23645"/>
<rect x="167" y="62" width="1" height="87" fill="#F23645"/>
<rect x="165" y="75" width="5" height="66" fill="#F23645"/>
<rect x="161" y="73" width="1" height="10" fill="#089981"/>
<rect x="159" y="75" width="5" height="6" fill="#089981"/>
<rect x="155" y="66" width="1" height="17" fill="#F23645"/>
<rect x="153" y="74" width="5" height="7" fill="#F23645"/>
<rect x="149" y="61" width="1" height="14" fill="#F23645"/>
<rect x="147" y="68" width="5" height="6" fill="#F23645"/>
<rect x="142" y="64" width="1" height="15" fill="#089981"/>
<rect x="140" y="68" width="5" height="9" fill="#089981"/>
<rect x="136" y="75" width="1" height="17" fill="#089981"/>
<rect x="134" y="76" width="5" height="8" fill="#089981"/>
<rect x="130" y="58" width="1" height="31" fill="#F23645"/>
<rect x="128" y="67" width="5" height="17" fill="#F23645"/>
<rect x="124" y="54" width="1" height="27" fill="#F23645"/>
<rect x="122" y="54" width="5" height="14" fill="#F23645"/>
<rect x="118" y="43" width="1" height="13" fill="#F23645"/>
<rect x="116" y="46" width="5" height="8" fill="#F23645"/>
<rect x="111" y="18" width="1" height="29" fill="#F23645"/>
<rect x="109" y="20" width="5" height="27" fill="#F23645"/>
<rect x="105" y="12" width="1" height="18" fill="#089981"/>
<rect x="103" y="15" width="5" height="13" fill="#089981"/>
<rect x="99" y="18" width="1" height="30" fill="#089981"/>
<rect x="97" y="20" width="5" height="28" fill="#089981"/>
<rect x="93" y="20" width="1" height="30" fill="#F23645"/>
<rect x="91" y="35" width="5" height="13" fill="#F23645"/>
<rect x="87" y="20" width="1" height="23" fill="#089981"/>
<rect x="85" y="36" width="5" height="7" fill="#089981"/>
<rect x="80" y="42" width="1" height="14" fill="#089981"/>
<rect x="78" y="42" width="5" height="6" fill="#089981"/>
<rect x="74" y="20" width="1" height="30" fill="#F23645"/>
<rect x="72" y="46" width="5" height="3" fill="#F23645"/>
<rect x="68" y="20" width="1" height="29" fill="#F23645"/>
<rect x="66" y="38" width="5" height="10" fill="#F23645"/>
<rect x="62" y="18" width="1" height="29" fill="#F23645"/>
<rect x="60" y="20" width="5" height="19" fill="#F23645"/>
<rect x="56" y="8" width="1" height="30" fill="#F23645"/>
<rect x="54" y="10" width="5" height="10" fill="#F23645"/>
</g>
<g shape-rendering="crispEdges">
<line x1="13" y1="318.5" x2="1655" y2="318.5" stroke="#F23645" stroke-width="1" stroke-dasharray="1 2" stroke-dashoffset="0"/>
<line x1="13" y1="423.5" x2="1719" y2="423.5" stroke="#7B7E88" stroke-width="1" stroke-dasharray="1 2"/>
</g>
<g clip-path="url(#cpMain)" fill="none" stroke-linecap="round">
<g stroke="#E91E63" stroke-width="2" stroke-linecap="butt">
<line x1="1077.7" y1="243" x2="1090.4" y2="397.6"/>
<polyline points="1076.1,384.9 1090.4,397.6 1102.4,384"/>
<line x1="1380.7" y1="329" x2="1394.3" y2="484.4"/>
<polyline points="1379.8,472.6 1394.3,484.4 1406,470.3"/>
</g>
</g>
<line x1="1394.5" y1="484.9" x2="1720" y2="484.9" stroke="#2962FF" stroke-width="2" stroke-dasharray="2 4"/>
<text class="h" stroke="#131722" x="23.4" y="58.7" font-size="15" fill="#131722" textLength="64.6" lengthAdjust="spacingAndGlyphs">Ethereum</text>
<text class="h" stroke="#131722" x="94.2" y="58.7" font-size="15" fill="#131722" textLength="4.4" lengthAdjust="spacingAndGlyphs">/</text>
<text class="h" stroke="#131722" x="105" y="58.7" font-size="15" fill="#131722" textLength="26.6" lengthAdjust="spacingAndGlyphs">U.S.</text>
<text class="h" stroke="#131722" x="137.6" y="58.7" font-size="15" fill="#131722" textLength="39.3" lengthAdjust="spacingAndGlyphs">Dollar</text>
<text class="h" stroke="#131722" x="192" y="58.7" font-size="15" fill="#131722" textLength="15.6" lengthAdjust="spacingAndGlyphs">4h</text>
<text class="h" stroke="#131722" x="222.6" y="58.7" font-size="15" fill="#131722" textLength="59" lengthAdjust="spacingAndGlyphs">Bitstamp</text>
<circle cx="184.1" cy="53.7" r="1.05" fill="#131722"/>
<circle cx="215" cy="53.7" r="1.05" fill="#131722"/>
<text class="h" stroke="#131722" x="291" y="58.7" font-size="15" fill="#131722" textLength="9.6" lengthAdjust="spacingAndGlyphs">O</text>
<text class="h" stroke="#089981" x="302.4" y="58.7" font-size="15" fill="#089981" textLength="48.3" lengthAdjust="spacingAndGlyphs">3,437.9</text>
<text class="h" stroke="#131722" x="360.4" y="58.7" font-size="15" fill="#131722" textLength="9" lengthAdjust="spacingAndGlyphs">H</text>
<text class="h" stroke="#089981" x="371.2" y="58.7" font-size="15" fill="#089981" textLength="48.6" lengthAdjust="spacingAndGlyphs">3,456.3</text>
<text class="h" stroke="#131722" x="430.3" y="58.7" font-size="15" fill="#131722" textLength="6.9" lengthAdjust="spacingAndGlyphs">L</text>
<text class="h" stroke="#089981" x="438.5" y="58.7" font-size="15" fill="#089981" textLength="48" lengthAdjust="spacingAndGlyphs">3,431.3</text>
<text class="h" stroke="#131722" x="497" y="58.7" font-size="15" fill="#131722" textLength="8" lengthAdjust="spacingAndGlyphs">C</text>
<text class="h" stroke="#089981" x="506.6" y="58.7" font-size="15" fill="#089981" textLength="48.8" lengthAdjust="spacingAndGlyphs">3,447.2</text>
<text class="h" stroke="#089981" x="565.3" y="58.7" font-size="15" fill="#089981" textLength="90" lengthAdjust="spacingAndGlyphs">+9.4 (+0.27%)</text>
<text class="h" stroke="#131722" x="23.2" y="79.7" font-size="15" fill="#131722" textLength="19.6" lengthAdjust="spacingAndGlyphs">Vol</text>
<circle cx="50.4" cy="74.8" r="1.05" fill="#131722"/>
<text class="h" stroke="#131722" x="58.45" y="79.7" font-size="15" fill="#131722" textLength="25.8" lengthAdjust="spacingAndGlyphs">ETH</text>
<text class="h" stroke="#26A69A" x="93.8" y="79.7" font-size="15" fill="#26A69A" textLength="23.2" lengthAdjust="spacingAndGlyphs">474</text>
<text class="h" stroke="#131722" x="23.2" y="121.6" font-size="15" fill="#131722" textLength="19.6" lengthAdjust="spacingAndGlyphs">Vol</text>
<circle cx="50.4" cy="116.7" r="1.05" fill="#131722"/>
<text class="h" stroke="#131722" x="58.45" y="121.6" font-size="15" fill="#131722" textLength="25.8" lengthAdjust="spacingAndGlyphs">ETH</text>
<text class="h" stroke="#26A69A" x="93.8" y="121.6" font-size="15" fill="#26A69A" textLength="23.2" lengthAdjust="spacingAndGlyphs">474</text>
<text class="h" stroke="#131722" x="23.4" y="100.7" font-size="15" fill="#131722" textLength="27.2" lengthAdjust="spacingAndGlyphs">EMA</text>
<text class="h" stroke="#131722" x="55" y="100.7" font-size="15" fill="#131722" textLength="26.3" lengthAdjust="spacingAndGlyphs">(50,</text>
<text class="h" stroke="#131722" x="86.2" y="100.7" font-size="15" fill="#131722" textLength="40" lengthAdjust="spacingAndGlyphs">close)</text>
<text class="h" stroke="#2962FF" x="135.6" y="100.7" font-size="15" fill="#2962FF" textLength="49.5" lengthAdjust="spacingAndGlyphs">3,521.6</text>
<text class="h" stroke="#131722" x="1730.4" y="118.9" font-size="15" fill="#131722" textLength="50.8" lengthAdjust="spacingAndGlyphs">4,200.0</text>
<text class="h" stroke="#131722" x="1730.4" y="173" font-size="15" fill="#131722" textLength="50.8" lengthAdjust="spacingAndGlyphs">4,000.0</text>
<text class="h" stroke="#131722" x="1730.4" y="227.1" font-size="15" fill="#131722" textLength="50.8" lengthAdjust="spacingAndGlyphs">3,800.0</text>
<text class="h" stroke="#131722" x="1730.4" y="281.3" font-size="15" fill="#131722" textLength="50.8" lengthAdjust="spacingAndGlyphs">3,600.0</text>
<text class="h" stroke="#131722" x="1730.4" y="389" font-size="15" fill="#131722" textLength="50.8" lengthAdjust="spacingAndGlyphs">3,200.0</text>
<text class="h" stroke="#131722" x="1730.4" y="443" font-size="15" fill="#131722" textLength="50.8" lengthAdjust="spacingAndGlyphs">3,000.0</text>
<text class="h" stroke="#131722" x="1730.4" y="497" font-size="15" fill="#131722" textLength="50.8" lengthAdjust="spacingAndGlyphs">2,800.0</text>
<text class="h" stroke="#131722" x="1730.4" y="551.1" font-size="15" fill="#131722" textLength="50.8" lengthAdjust="spacingAndGlyphs">2,600.0</text>
<text class="h" stroke="#131722" x="1730.4" y="610.9" font-size="15" fill="#131722" textLength="36.5" lengthAdjust="spacingAndGlyphs">80.00</text>
<text class="h" stroke="#131722" x="1730.4" y="658.9" font-size="15" fill="#131722" textLength="36.5" lengthAdjust="spacingAndGlyphs">60.00</text>
<text class="h" stroke="#131722" x="1730.4" y="707.5" font-size="15" fill="#131722" textLength="36.5" lengthAdjust="spacingAndGlyphs">40.00</text>
<text class="h" stroke="#131722" x="1730.4" y="755.5" font-size="15" fill="#131722" textLength="36.5" lengthAdjust="spacingAndGlyphs">20.00</text>
<rect x="1723.8" y="39.1" width="72.4" height="31.7" rx="4" fill="#fff" stroke="#E3EEE3" stroke-width="0.8"/>
<text class="h" stroke="#131722" x="1735.6" y="59.5" font-size="14.3" fill="#131722" textLength="25.5" lengthAdjust="spacingAndGlyphs">USD</text>
<path d="M1720 287 H1785.5 Q1788 287 1788 289.5 V305.1 Q1788 307.6 1785.5 307.6 H1720Z" fill="#2962FF"/>
<text class="h" stroke="#fff" x="1731.3" y="301.9" font-size="15" fill="#fff" textLength="50" lengthAdjust="spacingAndGlyphs">3,521.6</text>
<path d="M1720 308 H1792.5 Q1795 308 1795 310.5 V344.2 Q1795 346.7 1792.5 346.7 H1720Z" fill="#F23645"/>
<text class="h" stroke="#fff" x="1731.3" y="323.3" font-size="15" fill="#fff" textLength="49.8" lengthAdjust="spacingAndGlyphs">3,447.2</text>
<text class="h" stroke="rgba(255,255,255,0.78)" x="1731" y="340.9" font-size="14" fill="rgba(255,255,255,0.78)" textLength="58.4" lengthAdjust="spacingAndGlyphs">01:59:34</text>
<path d="M1657.7 308 H1719.2 V329 H1657.7 Q1655.2 329 1655.2 326.5 V310.5 Q1655.2 308 1657.7 308Z" fill="#F23645"/>
<text class="h" stroke="#fff" x="1661.8" y="323.6" font-size="14.3" fill="#fff" textLength="51.7" lengthAdjust="spacingAndGlyphs">ETHUSD</text>
<path d="M1720 475 H1785.5 Q1788 475 1788 477.5 V493.5 Q1788 496 1785.5 496 H1720Z" fill="#2962FF"/>
<text class="h" stroke="#fff" x="1731" y="490" font-size="15" fill="#fff" textLength="50" lengthAdjust="spacingAndGlyphs">2,828.1</text>
<path d="M1720 575 H1757.7 Q1760.2 575 1760.2 577.5 V593.5 Q1760.2 596 1757.7 596 H1720Z" fill="#26A69A"/>
<text class="h" stroke="#fff" x="1731" y="591" font-size="15" fill="#fff" textLength="23.8" lengthAdjust="spacingAndGlyphs">474</text>
<path d="M1720 657.3 H1771.5 Q1774 657.3 1774 659.8 V675.4 Q1774 677.9 1771.5 677.9 H1720Z" fill="#FDD835"/>
<text class="h" stroke="#131722" x="1731.5" y="673.1" font-size="15" fill="#131722" textLength="36.2" lengthAdjust="spacingAndGlyphs">53.74</text>
<path d="M1720 679.2 H1771.5 Q1774 679.2 1774 681.7 V697.3 Q1774 699.8 1771.5 699.8 H1720Z" fill="#7E57C2"/>
<text class="h" stroke="#fff" x="1731.3" y="695" font-size="15" fill="#fff" textLength="36.2" lengthAdjust="spacingAndGlyphs">45.36</text>
<rect x="13" y="596" width="1788" height="1" fill="#D5DAD4" shape-rendering="crispEdges"/>
<rect x="13" y="629.5" width="1706.5" height="97" fill="rgba(126,87,194,0.1)"/>
<g stroke-width="1" fill="none">
<line x1="13.07" y1="629.5" x2="1719.5" y2="629.5" stroke="#6E6A86" stroke-dasharray="5 6"/>
<line x1="13.07" y1="726.5" x2="1719.5" y2="726.5" stroke="#6E6A86" stroke-dasharray="5 6"/>
<line x1="13.07" y1="678.5" x2="1719.5" y2="678.5" stroke="rgba(110,106,134,0.55)" stroke-dasharray="5 6"/>
</g>
<path d="M11.6 641.5 L17.6 626.0 L24.6 619.3 L30.6 632.8 L36.6 631.8 L42.6 636.3 L48.6 630.5 L55.6 684.3 L61.6 690.7 L67.6 696.1 L73.6 696.9 L79.6 692.2 L86.6 685.9 L92.6 694.2 L98.6 677.6 L104.6 674.9 L110.6 691.1 L117.6 696.1 L123.6 705.2 L129.6 715.2 L135.6 708.0 L141.6 699.7 L148.6 703.6 L154.6 708.4 L160.6 702.3 L166.6 735.1 L172.6 744.7 L179.6 754.0 L185.6 755.9 L191.6 757.6 L197.6 738.0 L203.6 738.9 L209.6 743.7 L216.6 745.3 L222.6 735.1 L228.6 724.4 L234.6 726.4 L240.6 683.9 L247.6 669.5 L253.6 667.0 L259.6 668.9 L265.6 663.7 L271.6 679.1 L278.6 670.8 L284.6 656.0 L290.6 658.3 L296.6 674.3 L302.6 694.5 L309.6 695.5 L315.6 679.5 L321.6 676.8 L327.6 673.9 L333.6 680.5 L340.6 674.3 L346.6 677.6 L352.6 694.5 L358.6 694.5 L364.6 694.0 L371.6 688.2 L377.6 689.7 L383.6 678.7 L389.6 701.7 L395.6 707.1 L402.6 701.3 L408.6 694.2 L414.6 715.4 L420.6 710.9 L426.6 707.1 L433.6 701.3 L439.6 699.9 L445.6 692.6 L451.6 687.8 L457.6 689.3 L464.6 690.3 L470.6 686.4 L476.6 687.8 L482.6 683.3 L488.6 687.8 L495.6 678.1 L501.6 664.6 L507.6 663.1 L513.6 664.1 L519.6 654.0 L526.6 647.7 L532.6 654.6 L538.6 664.2 L544.6 671.8 L550.6 672.4 L556.6 688.4 L563.6 695.9 L569.6 697.0 L575.6 649.8 L581.6 668.5 L587.6 693.2 L594.6 695.1 L600.6 693.6 L606.6 699.7 L612.6 696.9 L618.6 703.8 L625.6 703.6 L631.6 697.4 L637.6 683.0 L643.6 686.8 L649.6 683.3 L656.6 687.2 L662.6 688.2 L668.6 678.1 L674.6 663.1 L680.6 664.2 L687.6 680.5 L693.6 671.0 L699.6 668.5 L705.6 672.7 L711.6 671.0 L718.6 667.1 L724.6 669.8 L730.6 662.1 L736.6 664.1 L742.6 672.7 L749.6 665.6 L755.6 640.1 L761.6 634.3 L767.6 637.2 L773.6 620.8 L780.6 614.1 L786.6 615.4 L792.6 633.2 L798.6 630.5 L804.6 627.0 L811.6 654.6 L817.6 662.7 L823.6 656.9 L829.6 658.5 L835.6 664.2 L842.6 682.4 L848.6 697.4 L854.6 691.1 L860.6 683.0 L866.6 687.2 L873.6 701.9 L879.6 711.3 L885.6 711.3 L891.6 700.7 L897.6 698.8 L903.6 711.9 L910.6 730.2 L916.6 740.8 L922.6 706.7 L928.6 700.9 L934.6 700.3 L941.6 689.3 L947.6 692.6 L953.6 686.2 L959.6 694.5 L965.6 690.7 L972.6 690.7 L978.6 685.9 L984.6 681.0 L990.6 684.9 L996.6 686.4 L1003.6 684.3 L1009.6 675.2 L1015.6 681.0 L1021.6 692.2 L1027.6 691.6 L1034.6 672.9 L1040.6 713.8 L1046.6 717.7 L1052.6 718.1 L1058.6 735.6 L1065.6 721.9 L1071.6 725.8 L1077.6 714.4 L1083.6 733.1 L1089.6 723.1 L1096.6 726.4 L1102.6 749.1 L1108.6 737.0 L1114.6 726.4 L1120.6 726.4 L1127.6 726.4 L1133.6 710.0 L1139.6 698.8 L1145.6 702.8 L1151.6 701.3 L1158.6 708.4 L1164.6 704.2 L1170.6 717.1 L1176.6 711.3 L1182.6 712.5 L1189.6 705.2 L1195.6 702.3 L1201.6 716.3 L1207.6 706.7 L1213.6 677.8 L1220.6 679.1 L1226.6 675.8 L1232.6 676.8 L1238.6 683.9 L1244.6 690.7 L1251.6 687.4 L1257.6 684.9 L1263.6 690.3 L1269.6 679.1 L1275.6 677.6 L1281.6 658.8 L1288.6 647.7 L1294.6 647.3 L1300.6 639.6 L1306.6 645.3 L1312.6 645.3 L1319.6 670.4 L1325.6 662.7 L1331.6 660.4 L1337.6 652.5 L1343.6 669.1 L1350.6 662.7 L1356.6 683.9 L1362.6 689.1 L1368.6 696.5 L1374.6 691.1 L1380.6 689.1 L1380.6 726.5 L13 726.5 Z" fill="url(#gOS)" clip-path="url(#cpOS)"/>
<path d="M11.6 641.5 L17.6 626.0 L24.6 619.3 L30.6 632.8 L36.6 631.8 L42.6 636.3 L48.6 630.5 L55.6 684.3 L61.6 690.7 L67.6 696.1 L73.6 696.9 L79.6 692.2 L86.6 685.9 L92.6 694.2 L98.6 677.6 L104.6 674.9 L110.6 691.1 L117.6 696.1 L123.6 705.2 L129.6 715.2 L135.6 708.0 L141.6 699.7 L148.6 703.6 L154.6 708.4 L160.6 702.3 L166.6 735.1 L172.6 744.7 L179.6 754.0 L185.6 755.9 L191.6 757.6 L197.6 738.0 L203.6 738.9 L209.6 743.7 L216.6 745.3 L222.6 735.1 L228.6 724.4 L234.6 726.4 L240.6 683.9 L247.6 669.5 L253.6 667.0 L259.6 668.9 L265.6 663.7 L271.6 679.1 L278.6 670.8 L284.6 656.0 L290.6 658.3 L296.6 674.3 L302.6 694.5 L309.6 695.5 L315.6 679.5 L321.6 676.8 L327.6 673.9 L333.6 680.5 L340.6 674.3 L346.6 677.6 L352.6 694.5 L358.6 694.5 L364.6 694.0 L371.6 688.2 L377.6 689.7 L383.6 678.7 L389.6 701.7 L395.6 707.1 L402.6 701.3 L408.6 694.2 L414.6 715.4 L420.6 710.9 L426.6 707.1 L433.6 701.3 L439.6 699.9 L445.6 692.6 L451.6 687.8 L457.6 689.3 L464.6 690.3 L470.6 686.4 L476.6 687.8 L482.6 683.3 L488.6 687.8 L495.6 678.1 L501.6 664.6 L507.6 663.1 L513.6 664.1 L519.6 654.0 L526.6 647.7 L532.6 654.6 L538.6 664.2 L544.6 671.8 L550.6 672.4 L556.6 688.4 L563.6 695.9 L569.6 697.0 L575.6 649.8 L581.6 668.5 L587.6 693.2 L594.6 695.1 L600.6 693.6 L606.6 699.7 L612.6 696.9 L618.6 703.8 L625.6 703.6 L631.6 697.4 L637.6 683.0 L643.6 686.8 L649.6 683.3 L656.6 687.2 L662.6 688.2 L668.6 678.1 L674.6 663.1 L680.6 664.2 L687.6 680.5 L693.6 671.0 L699.6 668.5 L705.6 672.7 L711.6 671.0 L718.6 667.1 L724.6 669.8 L730.6 662.1 L736.6 664.1 L742.6 672.7 L749.6 665.6 L755.6 640.1 L761.6 634.3 L767.6 637.2 L773.6 620.8 L780.6 614.1 L786.6 615.4 L792.6 633.2 L798.6 630.5 L804.6 627.0 L811.6 654.6 L817.6 662.7 L823.6 656.9 L829.6 658.5 L835.6 664.2 L842.6 682.4 L848.6 697.4 L854.6 691.1 L860.6 683.0 L866.6 687.2 L873.6 701.9 L879.6 711.3 L885.6 711.3 L891.6 700.7 L897.6 698.8 L903.6 711.9 L910.6 730.2 L916.6 740.8 L922.6 706.7 L928.6 700.9 L934.6 700.3 L941.6 689.3 L947.6 692.6 L953.6 686.2 L959.6 694.5 L965.6 690.7 L972.6 690.7 L978.6 685.9 L984.6 681.0 L990.6 684.9 L996.6 686.4 L1003.6 684.3 L1009.6 675.2 L1015.6 681.0 L1021.6 692.2 L1027.6 691.6 L1034.6 672.9 L1040.6 713.8 L1046.6 717.7 L1052.6 718.1 L1058.6 735.6 L1065.6 721.9 L1071.6 725.8 L1077.6 714.4 L1083.6 733.1 L1089.6 723.1 L1096.6 726.4 L1102.6 749.1 L1108.6 737.0 L1114.6 726.4 L1120.6 726.4 L1127.6 726.4 L1133.6 710.0 L1139.6 698.8 L1145.6 702.8 L1151.6 701.3 L1158.6 708.4 L1164.6 704.2 L1170.6 717.1 L1176.6 711.3 L1182.6 712.5 L1189.6 705.2 L1195.6 702.3 L1201.6 716.3 L1207.6 706.7 L1213.6 677.8 L1220.6 679.1 L1226.6 675.8 L1232.6 676.8 L1238.6 683.9 L1244.6 690.7 L1251.6 687.4 L1257.6 684.9 L1263.6 690.3 L1269.6 679.1 L1275.6 677.6 L1281.6 658.8 L1288.6 647.7 L1294.6 647.3 L1300.6 639.6 L1306.6 645.3 L1312.6 645.3 L1319.6 670.4 L1325.6 662.7 L1331.6 660.4 L1337.6 652.5 L1343.6 669.1 L1350.6 662.7 L1356.6 683.9 L1362.6 689.1 L1368.6 696.5 L1374.6 691.1 L1380.6 689.1 L1380.6 629.5 L13 629.5 Z" fill="url(#gOB)" clip-path="url(#cpOB)"/>
<g clip-path="url(#cpRsi)" fill="none" stroke-linejoin="round">
<path d="M11.6 641.5 L17.6 626.0 L24.6 619.3 L30.6 632.8 L36.6 631.8 L42.6 636.3 L48.6 630.5 L55.6 684.3 L61.6 690.7 L67.6 696.1 L73.6 696.9 L79.6 692.2 L86.6 685.9 L92.6 694.2 L98.6 677.6 L104.6 674.9 L110.6 691.1 L117.6 696.1 L123.6 705.2 L129.6 715.2 L135.6 708.0 L141.6 699.7 L148.6 703.6 L154.6 708.4 L160.6 702.3 L166.6 735.1 L172.6 744.7 L179.6 754.0 L185.6 755.9 L191.6 757.6 L197.6 738.0 L203.6 738.9 L209.6 743.7 L216.6 745.3 L222.6 735.1 L228.6 724.4 L234.6 726.4 L240.6 683.9 L247.6 669.5 L253.6 667.0 L259.6 668.9 L265.6 663.7 L271.6 679.1 L278.6 670.8 L284.6 656.0 L290.6 658.3 L296.6 674.3 L302.6 694.5 L309.6 695.5 L315.6 679.5 L321.6 676.8 L327.6 673.9 L333.6 680.5 L340.6 674.3 L346.6 677.6 L352.6 694.5 L358.6 694.5 L364.6 694.0 L371.6 688.2 L377.6 689.7 L383.6 678.7 L389.6 701.7 L395.6 707.1 L402.6 701.3 L408.6 694.2 L414.6 715.4 L420.6 710.9 L426.6 707.1 L433.6 701.3 L439.6 699.9 L445.6 692.6 L451.6 687.8 L457.6 689.3 L464.6 690.3 L470.6 686.4 L476.6 687.8 L482.6 683.3 L488.6 687.8 L495.6 678.1 L501.6 664.6 L507.6 663.1 L513.6 664.1 L519.6 654.0 L526.6 647.7 L532.6 654.6 L538.6 664.2 L544.6 671.8 L550.6 672.4 L556.6 688.4 L563.6 695.9 L569.6 697.0 L575.6 649.8 L581.6 668.5 L587.6 693.2 L594.6 695.1 L600.6 693.6 L606.6 699.7 L612.6 696.9 L618.6 703.8 L625.6 703.6 L631.6 697.4 L637.6 683.0 L643.6 686.8 L649.6 683.3 L656.6 687.2 L662.6 688.2 L668.6 678.1 L674.6 663.1 L680.6 664.2 L687.6 680.5 L693.6 671.0 L699.6 668.5 L705.6 672.7 L711.6 671.0 L718.6 667.1 L724.6 669.8 L730.6 662.1 L736.6 664.1 L742.6 672.7 L749.6 665.6 L755.6 640.1 L761.6 634.3 L767.6 637.2 L773.6 620.8 L780.6 614.1 L786.6 615.4 L792.6 633.2 L798.6 630.5 L804.6 627.0 L811.6 654.6 L817.6 662.7 L823.6 656.9 L829.6 658.5 L835.6 664.2 L842.6 682.4 L848.6 697.4 L854.6 691.1 L860.6 683.0 L866.6 687.2 L873.6 701.9 L879.6 711.3 L885.6 711.3 L891.6 700.7 L897.6 698.8 L903.6 711.9 L910.6 730.2 L916.6 740.8 L922.6 706.7 L928.6 700.9 L934.6 700.3 L941.6 689.3 L947.6 692.6 L953.6 686.2 L959.6 694.5 L965.6 690.7 L972.6 690.7 L978.6 685.9 L984.6 681.0 L990.6 684.9 L996.6 686.4 L1003.6 684.3 L1009.6 675.2 L1015.6 681.0 L1021.6 692.2 L1027.6 691.6 L1034.6 672.9 L1040.6 713.8 L1046.6 717.7 L1052.6 718.1 L1058.6 735.6 L1065.6 721.9 L1071.6 725.8 L1077.6 714.4 L1083.6 733.1 L1089.6 723.1 L1096.6 726.4 L1102.6 749.1 L1108.6 737.0 L1114.6 726.4 L1120.6 726.4 L1127.6 726.4 L1133.6 710.0 L1139.6 698.8 L1145.6 702.8 L1151.6 701.3 L1158.6 708.4 L1164.6 704.2 L1170.6 717.1 L1176.6 711.3 L1182.6 712.5 L1189.6 705.2 L1195.6 702.3 L1201.6 716.3 L1207.6 706.7 L1213.6 677.8 L1220.6 679.1 L1226.6 675.8 L1232.6 676.8 L1238.6 683.9 L1244.6 690.7 L1251.6 687.4 L1257.6 684.9 L1263.6 690.3 L1269.6 679.1 L1275.6 677.6 L1281.6 658.8 L1288.6 647.7 L1294.6 647.3 L1300.6 639.6 L1306.6 645.3 L1312.6 645.3 L1319.6 670.4 L1325.6 662.7 L1331.6 660.4 L1337.6 652.5 L1343.6 669.1 L1350.6 662.7 L1356.6 683.9 L1362.6 689.1 L1368.6 696.5 L1374.6 691.1 L1380.6 689.1" stroke="#7E57C2" stroke-width="1.3"/>
<path d="M12.9 645.7 C15.6 645.2 23.4 643.3 29.3 642.4 C35.2 641.5 42.2 638.5 48.6 640.1 C55.0 641.7 61.5 648.6 67.9 651.7 C74.3 654.8 81.1 656.3 87.2 658.8 C93.3 661.3 99.0 663.2 104.5 666.6 C110.0 670.0 114.7 674.6 120.0 679.1 C125.3 683.6 129.7 690.6 136.4 693.6 C143.2 696.6 153.9 694.8 160.5 696.9 C167.1 699.0 170.8 702.3 175.9 706.1 C181.1 709.9 186.6 716.1 191.4 719.6 C196.2 723.1 199.8 724.8 204.9 727.0 C210.0 729.2 217.1 731.1 222.2 732.7 C227.3 734.3 231.3 736.6 235.7 736.6 C240.0 736.6 244.1 734.9 248.3 732.7 C252.5 730.5 255.5 728.1 260.8 723.5 C266.1 718.9 273.7 711.5 280.1 705.2 C286.5 698.9 293.6 690.4 299.4 685.9 C305.2 681.4 310.3 680.2 314.8 678.1 C319.3 676.0 321.9 673.8 326.4 673.3 C330.9 672.8 338.0 674.3 341.9 674.9 C345.8 675.5 346.1 675.9 350.0 676.8 C353.9 677.7 360.6 678.8 365.4 680.1 C370.2 681.5 374.1 683.8 378.9 684.9 C383.7 686.0 389.2 686.0 394.4 686.8 C399.5 687.6 405.0 688.4 409.8 689.7 C414.6 691.1 419.1 693.5 423.3 694.9 C427.5 696.3 431.7 697.7 434.9 698.4 C438.1 699.1 439.4 699.0 442.6 699.0 C445.8 699.0 449.7 698.4 454.2 698.4 C458.7 698.4 465.1 699.2 469.6 699.0 C474.1 698.8 477.0 697.8 481.2 697.0 C485.4 696.2 489.9 696.3 494.7 694.5 C499.5 692.7 505.3 689.0 510.1 686.4 C514.9 683.8 519.8 681.0 523.7 679.1 C527.6 677.2 528.8 676.4 533.3 674.9 C537.8 673.4 545.9 671.0 550.7 670.4 C555.5 669.8 559.0 670.8 562.2 671.0 C565.4 671.2 567.6 672.1 570.0 671.8 C572.4 671.5 574.6 669.6 576.7 669.1 C578.8 668.6 578.5 667.5 582.5 668.5 C586.5 669.5 594.5 672.5 600.8 675.2 C607.1 677.9 614.6 682.5 620.1 684.9 C625.6 687.3 629.7 688.8 633.6 689.7 C637.5 690.6 639.4 690.4 643.3 690.3 C647.2 690.1 652.6 688.5 656.8 688.8 C661.0 689.1 664.2 692.1 668.4 692.0 C672.6 691.9 678.3 689.2 681.9 688.2 C685.5 687.2 686.4 687.4 690.0 686.2 C693.6 685.0 698.7 682.7 703.5 681.0 C708.3 679.3 712.5 677.8 718.9 676.2 C725.3 674.6 734.0 673.6 742.1 671.4 C750.2 669.1 759.8 666.2 767.2 662.7 C774.6 659.2 780.1 654.0 786.5 650.5 C792.9 647.0 800.0 643.1 805.8 641.5 C811.6 639.9 816.1 641.2 821.2 640.9 C826.3 640.6 831.8 638.5 836.6 639.6 C841.4 640.7 845.6 644.4 850.1 647.3 C854.6 650.2 859.8 653.7 863.7 656.9 C867.6 660.1 868.8 662.4 873.3 666.6 C877.8 670.9 885.6 678.5 890.7 682.4 C895.9 686.3 899.9 687.2 904.2 690.3 C908.5 693.4 912.5 698.4 916.7 700.9 C920.9 703.4 925.2 704.5 929.2 705.2 C933.2 705.9 936.6 705.1 940.8 705.3 C945.0 705.4 949.1 706.5 954.3 706.1 C959.4 705.8 966.6 704.2 971.7 703.2 C976.9 702.2 981.3 701.4 985.2 700.3 C989.1 699.2 991.4 698.2 994.9 696.5 C998.4 694.8 1002.5 691.8 1006.4 690.3 C1010.2 688.8 1014.5 687.7 1018.0 687.2 C1021.5 686.7 1024.9 687.5 1027.6 687.2 C1030.3 687.0 1032.3 685.7 1034.4 685.7 C1036.5 685.7 1037.2 686.2 1040.0 687.0 C1042.8 687.8 1046.1 688.6 1051.2 690.7 C1056.3 692.9 1064.4 697.2 1070.5 699.9 C1076.6 702.6 1082.4 704.2 1087.9 707.1 C1093.4 710.0 1098.8 714.7 1103.3 717.3 C1107.8 719.9 1111.4 720.9 1114.9 722.5 C1118.4 724.1 1121.6 726.2 1124.5 727.0 C1127.4 727.8 1129.7 727.5 1132.3 727.3 C1134.9 727.1 1137.4 726.6 1140.0 725.8 C1142.6 725.0 1143.5 723.6 1147.7 722.5 C1151.9 721.4 1159.3 720.2 1165.1 719.2 C1170.9 718.2 1177.3 717.7 1182.4 716.3 C1187.5 714.9 1191.7 712.1 1195.9 710.9 C1200.1 709.7 1204.3 710.0 1207.5 709.0 C1210.7 708.0 1211.3 706.7 1215.2 705.2 C1219.1 703.8 1224.6 701.9 1230.7 700.3 C1236.8 698.7 1245.8 697.1 1251.9 695.5 C1258.0 693.9 1262.5 692.2 1267.3 690.7 C1272.1 689.2 1276.0 688.7 1280.8 686.2 C1285.6 683.7 1291.1 678.8 1296.3 675.8 C1301.5 672.8 1306.6 670.2 1311.7 668.5 C1316.8 666.8 1322.6 666.7 1327.1 665.6 C1331.6 664.5 1334.7 662.9 1338.7 661.7 C1342.7 660.5 1347.3 658.7 1351.2 658.3 C1355.1 657.9 1358.2 658.3 1361.9 659.4 C1365.6 660.5 1370.1 663.1 1373.4 664.6 C1376.7 666.1 1380.2 667.9 1381.5 668.5" stroke="#F7D03A" stroke-width="1.35"/>
</g>
<text class="h" stroke="#131722" x="23.2" y="622" font-size="15" fill="#131722" textLength="18.6" lengthAdjust="spacingAndGlyphs">RSI</text>
<text class="h" stroke="#131722" x="48.5" y="622" font-size="15" fill="#131722" textLength="25.6" lengthAdjust="spacingAndGlyphs">(14,</text>
<text class="h" stroke="#131722" x="78.4" y="622" font-size="15" fill="#131722" textLength="40" lengthAdjust="spacingAndGlyphs">close)</text>
<text class="h" stroke="#7E57C2" x="128" y="622" font-size="15" fill="#7E57C2" textLength="36.3" lengthAdjust="spacingAndGlyphs">45.36</text>
<text class="h" stroke="#FDD835" x="174" y="622" font-size="15" fill="#FDD835" textLength="36.7" lengthAdjust="spacingAndGlyphs">53.74</text>
<text class="h" stroke="#131722" x="43.5" y="795.9" font-size="15" fill="#131722" text-anchor="middle">7</text>
<text class="h" stroke="#131722" x="118.5" y="795.9" font-size="15" fill="#131722" text-anchor="middle">9</text>
<text class="h" stroke="#131722" x="192.5" y="795.9" font-size="15" fill="#131722" text-anchor="middle">11</text>
<text class="h" stroke="#131722" x="266.5" y="795.9" font-size="15" fill="#131722" text-anchor="middle">13</text>
<text class="h" stroke="#131722" x="341.5" y="795.9" font-size="15" fill="#131722" text-anchor="middle">15</text>
<text class="h" stroke="#131722" x="415.5" y="795.9" font-size="15" fill="#131722" text-anchor="middle">17</text>
<text class="h" stroke="#131722" x="489.5" y="795.9" font-size="15" fill="#131722" text-anchor="middle">19</text>
<text class="h" stroke="#131722" x="564.5" y="795.9" font-size="15" fill="#131722" text-anchor="middle">21</text>
<text class="h" stroke="#131722" x="638.5" y="795.9" font-size="15" fill="#131722" text-anchor="middle">23</text>
<text class="h" stroke="#131722" x="712.5" y="795.9" font-size="15" fill="#131722" text-anchor="middle">25</text>
<text class="h" stroke="#131722" x="787.5" y="795.9" font-size="15" fill="#131722" text-anchor="middle">27</text>
<text class="h" stroke="#131722" x="861.5" y="795.9" font-size="15" fill="#131722" text-anchor="middle">29</text>
<text class="h" stroke="#131722" x="1053.5" y="795.9" font-size="15" fill="#131722" text-anchor="middle">3</text>
<text class="h" stroke="#131722" x="1128.5" y="795.9" font-size="15" fill="#131722" text-anchor="middle">5</text>
<text class="h" stroke="#131722" x="1202.5" y="795.9" font-size="15" fill="#131722" text-anchor="middle">7</text>
<text class="h" stroke="#131722" x="1276.5" y="795.9" font-size="15" fill="#131722" text-anchor="middle">9</text>
<text class="h" stroke="#131722" x="1351.5" y="795.9" font-size="15" fill="#131722" text-anchor="middle">11</text>
<text class="h" stroke="#131722" x="1425.5" y="795.9" font-size="15" fill="#131722" text-anchor="middle">13</text>
<text class="h" stroke="#131722" x="1499.5" y="795.9" font-size="15" fill="#131722" text-anchor="middle">15</text>
<text class="h" stroke="#131722" x="1574.5" y="795.9" font-size="15" fill="#131722" text-anchor="middle">17</text>
<text class="h" stroke="#131722" x="1648.5" y="795.9" font-size="15" fill="#131722" text-anchor="middle">19</text>
<text x="973.5" y="795.9" font-size="14.6" font-weight="bold" fill="#131722" text-anchor="middle" textLength="25.5" lengthAdjust="spacingAndGlyphs">Nov</text>
<g>
<circle cx="1381.8" cy="579.1" r="14" fill="#fff"/>
<path d="M1370.16 575.79 A12.1 12.1 0 1 1 1372.70 587.07" fill="none" stroke="#9C27B0" stroke-width="1.8"/>
<path d="M1385.9 572.7 L1376.4 579.9 L1381.7 579.9 L1377.2 586.2 L1387 578.6 L1381.9 578.6 Z" fill="#9C27B0" stroke="#9C27B0" stroke-width="0.5" stroke-linejoin="round"/>
<path d="M1368.4 577.3 Q1369.1 583.1 1374.9 583.8 Q1369.1 584.5 1368.4 590.3 Q1367.7 584.5 1361.9 583.8 Q1367.7 583.1 1368.4 577.3Z" fill="#fff" stroke="#fff" stroke-width="3.8" stroke-linejoin="round"/>
<path d="M1368.4 577.3 Q1369.1 583.1 1374.9 583.8 Q1369.1 584.5 1368.4 590.3 Q1367.7 584.5 1361.9 583.8 Q1367.7 583.1 1368.4 577.3Z" fill="#7C4DFF"/>
</g>
<g transform="translate(1431.05 579.4)">
<circle r="14.3" fill="#fff"/>
<circle r="12.9" fill="none" stroke="#F0283C" stroke-width="1.95"/>
<g transform="translate(0 0.25)"><g clip-path="url(#cpFlag)">
<rect x="-11" y="-11" width="22" height="22" fill="#F7F7FC"/>
<rect x="-11" y="-10.5" width="22" height="4.9" fill="#EF5350"/>
<rect x="-11" y="-1.7" width="22" height="4.0" fill="#EF5350"/>
<rect x="-11" y="6.2" width="22" height="5" fill="#EF5350"/>
<rect x="-11" y="-11" width="13" height="13.3" fill="#1E88E5"/>
<rect x="-8.25" y="-7.65" width="1.5" height="1.5" fill="#fff" fill-opacity="0.8"/>
<rect x="-8.25" y="-4.55" width="1.5" height="1.5" fill="#fff" fill-opacity="0.8"/>
<rect x="-8.25" y="-1.45" width="1.5" height="1.5" fill="#fff" fill-opacity="0.8"/>
<rect x="-4.75" y="-7.65" width="1.5" height="1.5" fill="#fff" fill-opacity="0.8"/>
<rect x="-4.75" y="-4.55" width="1.5" height="1.5" fill="#fff" fill-opacity="0.8"/>
<rect x="-4.75" y="-1.45" width="1.5" height="1.5" fill="#fff" fill-opacity="0.8"/>
<rect x="-1.35" y="-7.65" width="1.5" height="1.5" fill="#fff" fill-opacity="0.8"/>
<rect x="-1.35" y="-4.55" width="1.5" height="1.5" fill="#fff" fill-opacity="0.8"/>
<rect x="-1.35" y="-1.45" width="1.5" height="1.5" fill="#fff" fill-opacity="0.8"/>
</g></g></g>
<g transform="translate(1467.9 579.4)">
<circle r="14.3" fill="#fff"/>
<circle r="12.9" fill="none" stroke="#F0283C" stroke-width="1.95"/>
<g transform="translate(0 0.25)"><g clip-path="url(#cpFlag)">
<rect x="-11" y="-11" width="22" height="22" fill="#F7F7FC"/>
<rect x="-11" y="-10.5" width="22" height="4.9" fill="#EF5350"/>
<rect x="-11" y="-1.7" width="22" height="4.0" fill="#EF5350"/>
<rect x="-11" y="6.2" width="22" height="5" fill="#EF5350"/>
<rect x="-11" y="-11" width="13" height="13.3" fill="#1E88E5"/>
<rect x="-8.25" y="-7.65" width="1.5" height="1.5" fill="#fff" fill-opacity="0.8"/>
<rect x="-8.25" y="-4.55" width="1.5" height="1.5" fill="#fff" fill-opacity="0.8"/>
<rect x="-8.25" y="-1.45" width="1.5" height="1.5" fill="#fff" fill-opacity="0.8"/>
<rect x="-4.75" y="-7.65" width="1.5" height="1.5" fill="#fff" fill-opacity="0.8"/>
<rect x="-4.75" y="-4.55" width="1.5" height="1.5" fill="#fff" fill-opacity="0.8"/>
<rect x="-4.75" y="-1.45" width="1.5" height="1.5" fill="#fff" fill-opacity="0.8"/>
<rect x="-1.35" y="-7.65" width="1.5" height="1.5" fill="#fff" fill-opacity="0.8"/>
<rect x="-1.35" y="-4.55" width="1.5" height="1.5" fill="#fff" fill-opacity="0.8"/>
<rect x="-1.35" y="-1.45" width="1.5" height="1.5" fill="#fff" fill-opacity="0.8"/>
</g></g></g>
<g fill="#111111">
<path d="M15.4 835.5 H30.4 V853.8 H23.1 V842.6 H15.4 Z"/>
<circle cx="36.8" cy="839.15" r="3.85"/>
<path d="M44.5 835.5 H52.8 L45.6 853.8 H37.15 Z"/>
</g>
<defs><clipPath id="cpX"><rect x="55" y="840.65" width="170" height="13.25"/></clipPath></defs>
<g fill="#111111" stroke="none">
<rect x="61.95" y="835.44" width="13.65" height="3.46"/>
<rect x="67" y="835.44" width="3.8" height="18.46"/>
<rect x="75.85" y="840.65" width="3.4" height="13.25"/>
<rect x="94.55" y="840.65" width="3.4" height="13.25"/>
<rect x="110.8" y="835.44" width="3.4" height="18.46"/>
<rect x="117.1" y="840.65" width="3.4" height="13.25"/>
<circle cx="118.8" cy="836.95" r="2.25"/>
<rect x="123.2" y="840.65" width="3.4" height="13.25"/>
<rect x="148.4" y="840.65" width="3.4" height="13.75"/>
<path d="M151.83 835.44 H155.95 L161.75 849.9 L166.9 835.44 H170.6 L163.5 853.9 H159.65 Z"/>
<rect x="172.15" y="840.65" width="3.6" height="13.25"/>
<circle cx="174.05" cy="836.95" r="2.25"/>
<rect x="181.2" y="846.3" width="10.7" height="2.6"/>
</g>
<g fill="none" stroke="#111111" stroke-width="3.6">
<path d="M77.55 848.2 C77.55 844.2 79.6 842.35 83.4 842.35" stroke-width="3.5"/>
<circle cx="90.95" cy="847.3" r="5.2"/>
<circle cx="107.1" cy="847.3" r="5.2"/>
<circle cx="145.2" cy="847.3" r="5.2"/>
<path d="M124.9 847.2 V846.6 A4.7 4.7 0 0 1 134.3 846.6 V853.9" stroke-width="3.4"/>
<path d="M150.1 853.8 A5.1 4.2 0 0 1 140.4 856.3" stroke-width="3.3"/>
<path d="M189.53 849.66 A5.2 5.2 0 1 1 190.1 847.3"/>
<path clip-path="url(#cpX)" d="M193.55 838.55 L198.6 852.3 L202.8 842.25 L207.2 852.3 L212.05 838.55" stroke-width="3.5" stroke-linejoin="miter" stroke-miterlimit="10"/>
</g>
</svg></body></html>
